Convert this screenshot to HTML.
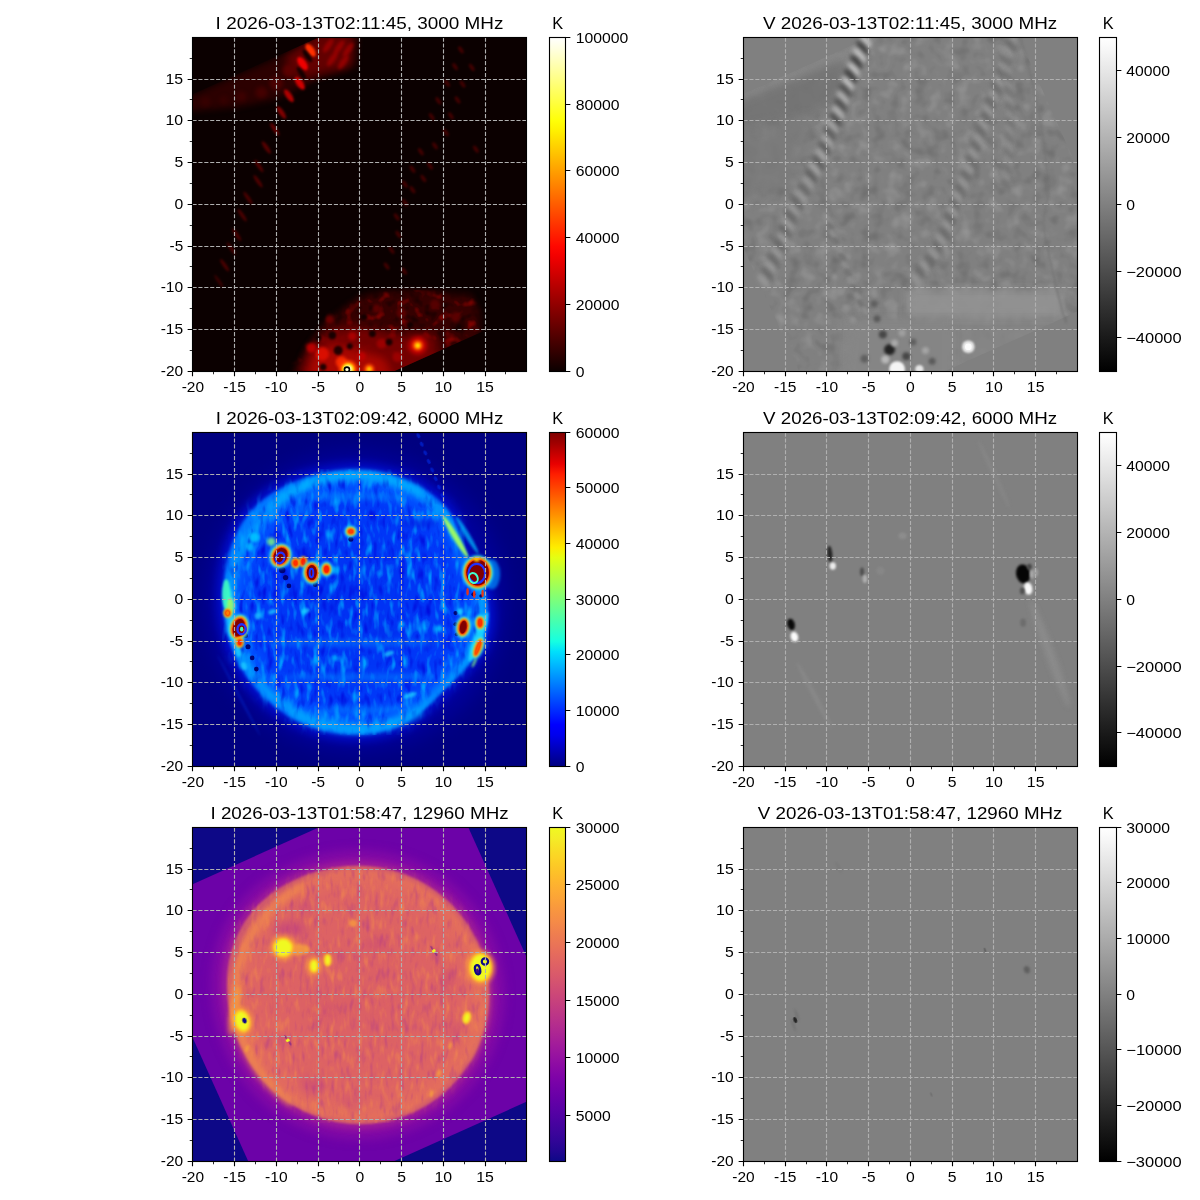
<!DOCTYPE html>
<html><head><meta charset="utf-8"><style>
html,body{margin:0;padding:0;background:#fff;}
svg{display:block;}
text{font-family:"Liberation Sans",sans-serif;}
svg{-webkit-font-smoothing:antialiased;will-change:transform;}
</style></head><body>
<svg width="1200" height="1200" viewBox="0 0 1200 1200">
<defs><clipPath id="clip00"><rect x="192.50" y="37.50" width="334.00" height="334.00"/></clipPath>
<clipPath id="sqclip1"><polygon points="443.21,-18.51 580.67,287.37 272.71,425.78 135.24,119.90"/></clipPath>
<filter id="bl3_00" x="-100%" y="-100%" width="300%" height="300%" color-interpolation-filters="sRGB"><feGaussianBlur stdDeviation="3.00"/></filter>
<filter id="bl4_00" x="-100%" y="-100%" width="300%" height="300%" color-interpolation-filters="sRGB"><feGaussianBlur stdDeviation="4.00"/></filter>
<filter id="bl2_00" x="-100%" y="-100%" width="300%" height="300%" color-interpolation-filters="sRGB"><feGaussianBlur stdDeviation="2.00"/></filter>
<filter id="bl1_60" x="-100%" y="-100%" width="300%" height="300%" color-interpolation-filters="sRGB"><feGaussianBlur stdDeviation="1.60"/></filter>
<filter id="bl1_00" x="-100%" y="-100%" width="300%" height="300%" color-interpolation-filters="sRGB"><feGaussianBlur stdDeviation="1.00"/></filter>
<filter id="bl0_80" x="-100%" y="-100%" width="300%" height="300%" color-interpolation-filters="sRGB"><feGaussianBlur stdDeviation="0.80"/></filter>
<filter id="texhot" x="0" y="0" width="1" height="1" color-interpolation-filters="sRGB"><feTurbulence type="fractalNoise" baseFrequency="0.090 0.090" numOctaves="2" seed="5" result="n"/><feColorMatrix in="n" type="matrix" values="0 0 0 0 0.750  0 0 0 0 0.020  0 0 0 0 0.000  2.60 0 0 0 -1.45" result="l"/><feColorMatrix in="n" type="matrix" values="0 0 0 0 0.040  0 0 0 0 0.000  0 0 0 0 0.000  -3.00 0 0 0 1.35" result="d"/><feMerge result="m"><feMergeNode in="d"/><feMergeNode in="l"/></feMerge><feGaussianBlur in="SourceAlpha" stdDeviation="4.0" result="sa"/><feComposite in="m" in2="sa" operator="in"/></filter>
<filter id="bl5_00" x="-100%" y="-100%" width="300%" height="300%" color-interpolation-filters="sRGB"><feGaussianBlur stdDeviation="5.00"/></filter>
<filter id="bl1_80" x="-100%" y="-100%" width="300%" height="300%" color-interpolation-filters="sRGB"><feGaussianBlur stdDeviation="1.80"/></filter>
<filter id="bl1_20" x="-100%" y="-100%" width="300%" height="300%" color-interpolation-filters="sRGB"><feGaussianBlur stdDeviation="1.20"/></filter>
<filter id="bl1_40" x="-100%" y="-100%" width="300%" height="300%" color-interpolation-filters="sRGB"><feGaussianBlur stdDeviation="1.40"/></filter>
<linearGradient id="cg00" x1="0" y1="0" x2="0" y2="1"><stop offset="0.000" stop-color="#ffffff"/><stop offset="0.031" stop-color="#ffffe3"/><stop offset="0.062" stop-color="#ffffc4"/><stop offset="0.094" stop-color="#ffffa4"/><stop offset="0.125" stop-color="#ffff85"/><stop offset="0.156" stop-color="#ffff65"/><stop offset="0.188" stop-color="#ffff46"/><stop offset="0.219" stop-color="#ffff26"/><stop offset="0.250" stop-color="#ffff07"/><stop offset="0.281" stop-color="#ffef00"/><stop offset="0.312" stop-color="#ffda00"/><stop offset="0.344" stop-color="#ffc500"/><stop offset="0.375" stop-color="#ffb000"/><stop offset="0.406" stop-color="#ff9b00"/><stop offset="0.438" stop-color="#ff8600"/><stop offset="0.469" stop-color="#ff7100"/><stop offset="0.500" stop-color="#ff5c00"/><stop offset="0.531" stop-color="#ff4700"/><stop offset="0.562" stop-color="#ff3200"/><stop offset="0.594" stop-color="#ff1d00"/><stop offset="0.625" stop-color="#ff0800"/><stop offset="0.656" stop-color="#f20000"/><stop offset="0.688" stop-color="#dd0000"/><stop offset="0.719" stop-color="#c80000"/><stop offset="0.750" stop-color="#b30000"/><stop offset="0.781" stop-color="#9e0000"/><stop offset="0.812" stop-color="#890000"/><stop offset="0.844" stop-color="#740000"/><stop offset="0.875" stop-color="#5f0000"/><stop offset="0.906" stop-color="#4a0000"/><stop offset="0.938" stop-color="#350000"/><stop offset="0.969" stop-color="#200000"/><stop offset="1.000" stop-color="#0b0000"/></linearGradient>
<clipPath id="clip01"><rect x="743.50" y="37.50" width="334.00" height="334.00"/></clipPath>
<clipPath id="sqclipv1"><polygon points="993.77,-18.51 1131.24,287.37 823.27,425.78 685.80,119.90"/></clipPath>
<filter id="texv1" x="0" y="0" width="1" height="1" color-interpolation-filters="sRGB"><feTurbulence type="fractalNoise" baseFrequency="0.070 0.070" numOctaves="2" seed="3" result="n"/><feColorMatrix in="n" type="matrix" values="0 0 0 0 0.620  0 0 0 0 0.620  0 0 0 0 0.620  1.60 0 0 0 -0.85" result="l"/><feColorMatrix in="n" type="matrix" values="0 0 0 0 0.380  0 0 0 0 0.380  0 0 0 0 0.380  -1.60 0 0 0 0.75" result="d"/><feMerge result="m"><feMergeNode in="d"/><feMergeNode in="l"/></feMerge><feGaussianBlur in="SourceAlpha" stdDeviation="0.1" result="sa"/><feComposite in="m" in2="sa" operator="in"/></filter>
<filter id="bl2_50" x="-100%" y="-100%" width="300%" height="300%" color-interpolation-filters="sRGB"><feGaussianBlur stdDeviation="2.50"/></filter>
<filter id="bl6_00" x="-100%" y="-100%" width="300%" height="300%" color-interpolation-filters="sRGB"><feGaussianBlur stdDeviation="6.00"/></filter>
<filter id="bl0_60" x="-100%" y="-100%" width="300%" height="300%" color-interpolation-filters="sRGB"><feGaussianBlur stdDeviation="0.60"/></filter>
<linearGradient id="cg01" x1="0" y1="0" x2="0" y2="1"><stop offset="0.000" stop-color="#ffffff"/><stop offset="0.031" stop-color="#f8f8f8"/><stop offset="0.062" stop-color="#f0f0f0"/><stop offset="0.094" stop-color="#e8e8e8"/><stop offset="0.125" stop-color="#e0e0e0"/><stop offset="0.156" stop-color="#d8d8d8"/><stop offset="0.188" stop-color="#d0d0d0"/><stop offset="0.219" stop-color="#c8c8c8"/><stop offset="0.250" stop-color="#c0c0c0"/><stop offset="0.281" stop-color="#b8b8b8"/><stop offset="0.312" stop-color="#b0b0b0"/><stop offset="0.344" stop-color="#a8a8a8"/><stop offset="0.375" stop-color="#a0a0a0"/><stop offset="0.406" stop-color="#989898"/><stop offset="0.438" stop-color="#909090"/><stop offset="0.469" stop-color="#888888"/><stop offset="0.500" stop-color="#808080"/><stop offset="0.531" stop-color="#787878"/><stop offset="0.562" stop-color="#707070"/><stop offset="0.594" stop-color="#686868"/><stop offset="0.625" stop-color="#606060"/><stop offset="0.656" stop-color="#585858"/><stop offset="0.688" stop-color="#505050"/><stop offset="0.719" stop-color="#484848"/><stop offset="0.750" stop-color="#404040"/><stop offset="0.781" stop-color="#383838"/><stop offset="0.812" stop-color="#303030"/><stop offset="0.844" stop-color="#282828"/><stop offset="0.875" stop-color="#202020"/><stop offset="0.906" stop-color="#181818"/><stop offset="0.938" stop-color="#101010"/><stop offset="0.969" stop-color="#080808"/><stop offset="1.000" stop-color="#000000"/></linearGradient>
<clipPath id="clip10"><rect x="192.50" y="432.50" width="334.00" height="334.00"/></clipPath>
<filter id="bl10_00" x="-100%" y="-100%" width="300%" height="300%" color-interpolation-filters="sRGB"><feGaussianBlur stdDeviation="10.00"/></filter>
<filter id="texjet" x="0" y="0" width="1" height="1" color-interpolation-filters="sRGB"><feTurbulence type="fractalNoise" baseFrequency="0.150 0.055" numOctaves="2" seed="7" result="n"/><feColorMatrix in="n" type="matrix" values="0 0 0 0 0.000  0 0 0 0 0.620  0 0 0 0 1.000  3.20 0 0 0 -1.65" result="l"/><feColorMatrix in="n" type="matrix" values="0 0 0 0 0.000  0 0 0 0 0.030  0 0 0 0 0.860  -3.00 0 0 0 1.30" result="d"/><feMerge result="m"><feMergeNode in="d"/><feMergeNode in="l"/></feMerge><feGaussianBlur in="SourceAlpha" stdDeviation="6.0" result="sa"/><feComposite in="m" in2="sa" operator="in"/></filter>
<filter id="bl1_50" x="-100%" y="-100%" width="300%" height="300%" color-interpolation-filters="sRGB"><feGaussianBlur stdDeviation="1.50"/></filter>
<filter id="bl0_90" x="-100%" y="-100%" width="300%" height="300%" color-interpolation-filters="sRGB"><feGaussianBlur stdDeviation="0.90"/></filter>
<filter id="bl0_25" x="-100%" y="-100%" width="300%" height="300%" color-interpolation-filters="sRGB"><feGaussianBlur stdDeviation="0.25"/></filter>
<linearGradient id="cg10" x1="0" y1="0" x2="0" y2="1"><stop offset="0.000" stop-color="#800000"/><stop offset="0.031" stop-color="#9f0000"/><stop offset="0.062" stop-color="#c40000"/><stop offset="0.094" stop-color="#e80000"/><stop offset="0.125" stop-color="#ff1e00"/><stop offset="0.156" stop-color="#ff3b00"/><stop offset="0.188" stop-color="#ff5900"/><stop offset="0.219" stop-color="#ff7700"/><stop offset="0.250" stop-color="#ff9400"/><stop offset="0.281" stop-color="#ffb200"/><stop offset="0.312" stop-color="#ffd000"/><stop offset="0.344" stop-color="#feed00"/><stop offset="0.375" stop-color="#e4ff13"/><stop offset="0.406" stop-color="#caff2c"/><stop offset="0.438" stop-color="#b1ff46"/><stop offset="0.469" stop-color="#97ff60"/><stop offset="0.500" stop-color="#7dff7a"/><stop offset="0.531" stop-color="#63ff94"/><stop offset="0.562" stop-color="#49ffad"/><stop offset="0.594" stop-color="#30ffc7"/><stop offset="0.625" stop-color="#16ffe1"/><stop offset="0.656" stop-color="#00e0fb"/><stop offset="0.688" stop-color="#00c0ff"/><stop offset="0.719" stop-color="#00a0ff"/><stop offset="0.750" stop-color="#0080ff"/><stop offset="0.781" stop-color="#0060ff"/><stop offset="0.812" stop-color="#0040ff"/><stop offset="0.844" stop-color="#0020ff"/><stop offset="0.875" stop-color="#0000ff"/><stop offset="0.906" stop-color="#0000ed"/><stop offset="0.938" stop-color="#0000c8"/><stop offset="0.969" stop-color="#0000a4"/><stop offset="1.000" stop-color="#000080"/></linearGradient>
<clipPath id="clip11"><rect x="743.50" y="432.50" width="334.00" height="334.00"/></clipPath>
<linearGradient id="cg11" x1="0" y1="0" x2="0" y2="1"><stop offset="0.000" stop-color="#ffffff"/><stop offset="0.031" stop-color="#f8f8f8"/><stop offset="0.062" stop-color="#f0f0f0"/><stop offset="0.094" stop-color="#e8e8e8"/><stop offset="0.125" stop-color="#e0e0e0"/><stop offset="0.156" stop-color="#d8d8d8"/><stop offset="0.188" stop-color="#d0d0d0"/><stop offset="0.219" stop-color="#c8c8c8"/><stop offset="0.250" stop-color="#c0c0c0"/><stop offset="0.281" stop-color="#b8b8b8"/><stop offset="0.312" stop-color="#b0b0b0"/><stop offset="0.344" stop-color="#a8a8a8"/><stop offset="0.375" stop-color="#a0a0a0"/><stop offset="0.406" stop-color="#989898"/><stop offset="0.438" stop-color="#909090"/><stop offset="0.469" stop-color="#888888"/><stop offset="0.500" stop-color="#808080"/><stop offset="0.531" stop-color="#787878"/><stop offset="0.562" stop-color="#707070"/><stop offset="0.594" stop-color="#686868"/><stop offset="0.625" stop-color="#606060"/><stop offset="0.656" stop-color="#585858"/><stop offset="0.688" stop-color="#505050"/><stop offset="0.719" stop-color="#484848"/><stop offset="0.750" stop-color="#404040"/><stop offset="0.781" stop-color="#383838"/><stop offset="0.812" stop-color="#303030"/><stop offset="0.844" stop-color="#282828"/><stop offset="0.875" stop-color="#202020"/><stop offset="0.906" stop-color="#181818"/><stop offset="0.938" stop-color="#101010"/><stop offset="0.969" stop-color="#080808"/><stop offset="1.000" stop-color="#000000"/></linearGradient>
<clipPath id="clip20"><rect x="192.50" y="827.50" width="334.00" height="334.00"/></clipPath>
<clipPath id="sqclip"><polygon points="443.21,771.49 580.67,1077.37 272.71,1215.78 135.24,909.90"/></clipPath>
<filter id="texpl" x="0" y="0" width="1" height="1" color-interpolation-filters="sRGB"><feTurbulence type="fractalNoise" baseFrequency="0.200 0.060" numOctaves="2" seed="11" result="n"/><feColorMatrix in="n" type="matrix" values="0 0 0 0 0.940  0 0 0 0 0.520  0 0 0 0 0.310  2.60 0 0 0 -1.40" result="l"/><feColorMatrix in="n" type="matrix" values="0 0 0 0 0.740  0 0 0 0 0.270  0 0 0 0 0.500  -2.60 0 0 0 1.15" result="d"/><feMerge result="m"><feMergeNode in="d"/><feMergeNode in="l"/></feMerge><feGaussianBlur in="SourceAlpha" stdDeviation="6.0" result="sa"/><feComposite in="m" in2="sa" operator="in"/></filter>
<filter id="bl0_20" x="-100%" y="-100%" width="300%" height="300%" color-interpolation-filters="sRGB"><feGaussianBlur stdDeviation="0.20"/></filter>
<filter id="bl0_50" x="-100%" y="-100%" width="300%" height="300%" color-interpolation-filters="sRGB"><feGaussianBlur stdDeviation="0.50"/></filter>
<linearGradient id="cg20" x1="0" y1="0" x2="0" y2="1"><stop offset="0.000" stop-color="#f0f921"/><stop offset="0.031" stop-color="#f4ed27"/><stop offset="0.062" stop-color="#f8df25"/><stop offset="0.094" stop-color="#fcd225"/><stop offset="0.125" stop-color="#fdc527"/><stop offset="0.156" stop-color="#feb82c"/><stop offset="0.188" stop-color="#fdac33"/><stop offset="0.219" stop-color="#fba139"/><stop offset="0.250" stop-color="#f89540"/><stop offset="0.281" stop-color="#f58b47"/><stop offset="0.312" stop-color="#f0804e"/><stop offset="0.344" stop-color="#eb7655"/><stop offset="0.375" stop-color="#e66c5c"/><stop offset="0.406" stop-color="#e06363"/><stop offset="0.438" stop-color="#da5a6a"/><stop offset="0.469" stop-color="#d35171"/><stop offset="0.500" stop-color="#cc4778"/><stop offset="0.531" stop-color="#c43e7f"/><stop offset="0.562" stop-color="#bc3587"/><stop offset="0.594" stop-color="#b32c8e"/><stop offset="0.625" stop-color="#aa2395"/><stop offset="0.656" stop-color="#a01a9c"/><stop offset="0.688" stop-color="#9511a1"/><stop offset="0.719" stop-color="#8a09a5"/><stop offset="0.750" stop-color="#7e03a8"/><stop offset="0.781" stop-color="#7201a8"/><stop offset="0.812" stop-color="#6600a7"/><stop offset="0.844" stop-color="#5901a5"/><stop offset="0.875" stop-color="#4c02a1"/><stop offset="0.906" stop-color="#3f049c"/><stop offset="0.938" stop-color="#310597"/><stop offset="0.969" stop-color="#220690"/><stop offset="1.000" stop-color="#0d0887"/></linearGradient>
<clipPath id="clip21"><rect x="743.50" y="827.50" width="334.00" height="334.00"/></clipPath>
<linearGradient id="cg21" x1="0" y1="0" x2="0" y2="1"><stop offset="0.000" stop-color="#ffffff"/><stop offset="0.031" stop-color="#f8f8f8"/><stop offset="0.062" stop-color="#f0f0f0"/><stop offset="0.094" stop-color="#e8e8e8"/><stop offset="0.125" stop-color="#e0e0e0"/><stop offset="0.156" stop-color="#d8d8d8"/><stop offset="0.188" stop-color="#d0d0d0"/><stop offset="0.219" stop-color="#c8c8c8"/><stop offset="0.250" stop-color="#c0c0c0"/><stop offset="0.281" stop-color="#b8b8b8"/><stop offset="0.312" stop-color="#b0b0b0"/><stop offset="0.344" stop-color="#a8a8a8"/><stop offset="0.375" stop-color="#a0a0a0"/><stop offset="0.406" stop-color="#989898"/><stop offset="0.438" stop-color="#909090"/><stop offset="0.469" stop-color="#888888"/><stop offset="0.500" stop-color="#808080"/><stop offset="0.531" stop-color="#787878"/><stop offset="0.562" stop-color="#707070"/><stop offset="0.594" stop-color="#686868"/><stop offset="0.625" stop-color="#606060"/><stop offset="0.656" stop-color="#585858"/><stop offset="0.688" stop-color="#505050"/><stop offset="0.719" stop-color="#484848"/><stop offset="0.750" stop-color="#404040"/><stop offset="0.781" stop-color="#383838"/><stop offset="0.812" stop-color="#303030"/><stop offset="0.844" stop-color="#282828"/><stop offset="0.875" stop-color="#202020"/><stop offset="0.906" stop-color="#181818"/><stop offset="0.938" stop-color="#101010"/><stop offset="0.969" stop-color="#080808"/><stop offset="1.000" stop-color="#000000"/></linearGradient></defs>
<rect width="1200" height="1200" fill="#fff"/>
<g clip-path="url(#clip00)">
<rect x="191.50" y="36.50" width="336.00" height="336.00" fill="#0b0000"/>
<g clip-path="url(#sqclip1)">
<polygon points="176.20,102.45 309.78,43.17 324.81,28.98 347.35,28.98 347.35,69.06 318.13,79.07 276.38,99.11 234.64,107.46 176.20,112.47" fill="#300000" opacity="0.90" filter="url(#bl3_00)"/>
<polygon points="284.73,57.37 319.80,33.16 355.70,33.16 353.19,66.55 322.30,72.39 297.26,80.74" fill="#6a0000" opacity="0.90" filter="url(#bl4_00)"/>
<ellipse cx="205.42" cy="101.62" rx="5.01" ry="5.01" fill="#380000" opacity="0.90" filter="url(#bl2_00)"/>
<ellipse cx="223.79" cy="99.95" rx="4.17" ry="4.17" fill="#380000" opacity="0.90" filter="url(#bl2_00)"/>
<ellipse cx="241.32" cy="96.61" rx="5.01" ry="5.01" fill="#400000" opacity="0.90" filter="url(#bl2_00)"/>
<ellipse cx="261.36" cy="92.43" rx="5.84" ry="5.84" fill="#480000" opacity="0.90" filter="url(#bl2_00)"/>
<ellipse cx="276.38" cy="83.25" rx="6.68" ry="6.68" fill="#500000" opacity="0.90" filter="url(#bl2_00)"/>
<ellipse cx="288.91" cy="70.72" rx="6.68" ry="6.68" fill="#600000" opacity="0.90" filter="url(#bl2_00)"/>
<ellipse cx="328.15" cy="45.68" rx="2.92" ry="8.35" fill="#a00000" transform="rotate(35.0 328.15 45.68)" opacity="0.80" filter="url(#bl1_60)"/>
<ellipse cx="339.00" cy="47.35" rx="2.92" ry="8.35" fill="#a00000" transform="rotate(35.0 339.00 47.35)" opacity="0.80" filter="url(#bl1_60)"/>
<ellipse cx="348.18" cy="49.85" rx="2.92" ry="8.35" fill="#a00000" transform="rotate(35.0 348.18 49.85)" opacity="0.80" filter="url(#bl1_60)"/>
<ellipse cx="332.32" cy="59.04" rx="2.92" ry="8.35" fill="#a00000" transform="rotate(35.0 332.32 59.04)" opacity="0.80" filter="url(#bl1_60)"/>
<ellipse cx="343.17" cy="62.38" rx="2.92" ry="8.35" fill="#a00000" transform="rotate(35.0 343.17 62.38)" opacity="0.80" filter="url(#bl1_60)"/>
</g>
<ellipse cx="310.61" cy="50.27" rx="3.76" ry="7.51" fill="#ff3000" transform="rotate(-35.0 310.61 50.27)" filter="url(#bl1_00)"/>
<ellipse cx="302.52" cy="63.63" rx="3.76" ry="7.51" fill="#f00000" transform="rotate(-35.0 302.52 63.63)" filter="url(#bl1_00)"/>
<ellipse cx="299.76" cy="83.25" rx="3.34" ry="7.51" fill="#d00000" transform="rotate(-35.0 299.76 83.25)" filter="url(#bl1_00)"/>
<ellipse cx="288.91" cy="95.77" rx="2.92" ry="7.51" fill="#b00000" transform="rotate(-35.0 288.91 95.77)" filter="url(#bl1_00)"/>
<ellipse cx="281.39" cy="112.47" rx="2.50" ry="7.51" fill="#800000" transform="rotate(-35.0 281.39 112.47)" filter="url(#bl1_00)"/>
<ellipse cx="274.72" cy="129.17" rx="2.09" ry="7.51" fill="#600000" transform="rotate(-35.0 274.72 129.17)" filter="url(#bl1_00)"/>
<ellipse cx="266.37" cy="147.53" rx="2.09" ry="7.51" fill="#580000" transform="rotate(-35.0 266.37 147.53)" filter="url(#bl1_00)"/>
<ellipse cx="258.85" cy="165.90" rx="1.84" ry="7.51" fill="#500000" transform="rotate(-35.0 258.85 165.90)" filter="url(#bl1_00)"/>
<ellipse cx="258.02" cy="181.26" rx="1.84" ry="7.51" fill="#500000" transform="rotate(-35.0 258.02 181.26)" filter="url(#bl1_00)"/>
<ellipse cx="248.00" cy="198.04" rx="1.84" ry="7.51" fill="#4a0000" transform="rotate(-35.0 248.00 198.04)" filter="url(#bl1_00)"/>
<ellipse cx="242.16" cy="215.16" rx="1.84" ry="7.51" fill="#4a0000" transform="rotate(-35.0 242.16 215.16)" filter="url(#bl1_00)"/>
<ellipse cx="236.73" cy="234.78" rx="1.84" ry="7.51" fill="#4a0000" transform="rotate(-35.0 236.73 234.78)" filter="url(#bl1_00)"/>
<ellipse cx="231.30" cy="248.55" rx="1.67" ry="7.51" fill="#440000" transform="rotate(-35.0 231.30 248.55)" filter="url(#bl1_00)"/>
<ellipse cx="224.62" cy="265.25" rx="1.84" ry="7.51" fill="#4a0000" transform="rotate(-35.0 224.62 265.25)" filter="url(#bl1_00)"/>
<ellipse cx="218.78" cy="281.11" rx="1.50" ry="7.51" fill="#3a0000" transform="rotate(-35.0 218.78 281.11)" filter="url(#bl1_00)"/>
<ellipse cx="307.27" cy="55.70" rx="2.50" ry="7.51" fill="#0b0000" transform="rotate(-35.0 307.27 55.70)" opacity="0.90" filter="url(#bl1_00)"/>
<ellipse cx="301.43" cy="73.23" rx="2.50" ry="7.51" fill="#0b0000" transform="rotate(-35.0 301.43 73.23)" opacity="0.90" filter="url(#bl1_00)"/>
<ellipse cx="460.89" cy="49.85" rx="1.84" ry="4.17" fill="#5a0000" transform="rotate(-35.0 460.89 49.85)" opacity="0.70" filter="url(#bl0_80)"/>
<ellipse cx="455.04" cy="66.55" rx="1.84" ry="4.17" fill="#5a0000" transform="rotate(-35.0 455.04 66.55)" opacity="0.70" filter="url(#bl0_80)"/>
<ellipse cx="471.74" cy="67.39" rx="1.84" ry="4.17" fill="#5a0000" transform="rotate(-35.0 471.74 67.39)" opacity="0.70" filter="url(#bl0_80)"/>
<ellipse cx="447.11" cy="83.25" rx="1.84" ry="4.17" fill="#5a0000" transform="rotate(-35.0 447.11 83.25)" opacity="0.70" filter="url(#bl0_80)"/>
<ellipse cx="462.56" cy="84.08" rx="1.84" ry="4.17" fill="#5a0000" transform="rotate(-35.0 462.56 84.08)" opacity="0.70" filter="url(#bl0_80)"/>
<ellipse cx="438.35" cy="100.78" rx="1.84" ry="4.17" fill="#5a0000" transform="rotate(-35.0 438.35 100.78)" opacity="0.70" filter="url(#bl0_80)"/>
<ellipse cx="457.55" cy="99.95" rx="1.84" ry="4.17" fill="#5a0000" transform="rotate(-35.0 457.55 99.95)" opacity="0.70" filter="url(#bl0_80)"/>
<ellipse cx="431.67" cy="116.64" rx="1.84" ry="4.17" fill="#5a0000" transform="rotate(-35.0 431.67 116.64)" opacity="0.70" filter="url(#bl0_80)"/>
<ellipse cx="450.87" cy="115.81" rx="1.84" ry="4.17" fill="#5a0000" transform="rotate(-35.0 450.87 115.81)" opacity="0.70" filter="url(#bl0_80)"/>
<ellipse cx="445.86" cy="132.51" rx="1.84" ry="4.17" fill="#5a0000" transform="rotate(-35.0 445.86 132.51)" opacity="0.70" filter="url(#bl0_80)"/>
<ellipse cx="435.01" cy="145.86" rx="1.84" ry="4.17" fill="#5a0000" transform="rotate(-35.0 435.01 145.86)" opacity="0.70" filter="url(#bl0_80)"/>
<ellipse cx="420.81" cy="151.71" rx="1.84" ry="4.17" fill="#5a0000" transform="rotate(-35.0 420.81 151.71)" opacity="0.70" filter="url(#bl0_80)"/>
<ellipse cx="475.91" cy="149.20" rx="1.84" ry="4.17" fill="#5a0000" transform="rotate(-35.0 475.91 149.20)" opacity="0.70" filter="url(#bl0_80)"/>
<ellipse cx="430.00" cy="165.90" rx="1.84" ry="4.17" fill="#5a0000" transform="rotate(-35.0 430.00 165.90)" opacity="0.70" filter="url(#bl0_80)"/>
<ellipse cx="412.47" cy="169.24" rx="1.84" ry="4.17" fill="#5a0000" transform="rotate(-35.0 412.47 169.24)" opacity="0.70" filter="url(#bl0_80)"/>
<ellipse cx="423.32" cy="178.42" rx="1.84" ry="4.17" fill="#5a0000" transform="rotate(-35.0 423.32 178.42)" opacity="0.70" filter="url(#bl0_80)"/>
<ellipse cx="412.47" cy="189.69" rx="1.84" ry="4.17" fill="#5a0000" transform="rotate(-35.0 412.47 189.69)" opacity="0.70" filter="url(#bl0_80)"/>
<ellipse cx="404.95" cy="184.27" rx="1.84" ry="4.17" fill="#5a0000" transform="rotate(-35.0 404.95 184.27)" opacity="0.70" filter="url(#bl0_80)"/>
<ellipse cx="404.95" cy="202.64" rx="1.84" ry="4.17" fill="#5a0000" transform="rotate(-35.0 404.95 202.64)" opacity="0.70" filter="url(#bl0_80)"/>
<ellipse cx="396.60" cy="216.83" rx="1.84" ry="4.17" fill="#5a0000" transform="rotate(-35.0 396.60 216.83)" opacity="0.70" filter="url(#bl0_80)"/>
<ellipse cx="398.27" cy="234.36" rx="1.84" ry="4.17" fill="#5a0000" transform="rotate(-35.0 398.27 234.36)" opacity="0.70" filter="url(#bl0_80)"/>
<ellipse cx="391.59" cy="250.22" rx="1.84" ry="4.17" fill="#5a0000" transform="rotate(-35.0 391.59 250.22)" opacity="0.70" filter="url(#bl0_80)"/>
<ellipse cx="386.59" cy="266.09" rx="1.84" ry="4.17" fill="#5a0000" transform="rotate(-35.0 386.59 266.09)" opacity="0.70" filter="url(#bl0_80)"/>
<ellipse cx="404.12" cy="271.09" rx="1.84" ry="4.17" fill="#5a0000" transform="rotate(-35.0 404.12 271.09)" opacity="0.70" filter="url(#bl0_80)"/>
<g clip-path="url(#sqclip1)">
<polygon points="288.91,379.63 305.60,350.41 322.30,325.36 339.00,311.17 359.87,296.14 384.92,291.13 426.66,290.30 470.91,294.47 480.09,312.84 480.09,379.63" fill="#380000" opacity="0.95" filter="url(#bl3_00)"/>
<polygon points="288.91,379.63 305.60,350.41 322.30,325.36 339.00,311.17 359.87,296.14 384.92,291.13 426.66,290.30 470.91,294.47 480.09,312.84 480.09,379.63" fill="#000" opacity="0.80" filter="url(#texhot)"/>
<polygon points="297.26,379.63 309.78,347.90 330.65,329.54 359.87,325.36 393.26,333.71 435.01,333.71 443.35,379.63" fill="#7a0000" opacity="0.90" filter="url(#bl5_00)"/>
<polygon points="305.60,379.63 313.95,352.91 334.82,344.56 359.87,350.41 384.92,358.76 393.26,379.63" fill="#b00800" opacity="0.90" filter="url(#bl5_00)"/>
<ellipse cx="322.30" cy="353.75" rx="6.68" ry="6.68" fill="#e01000" opacity="0.90" filter="url(#bl1_80)"/>
<ellipse cx="311.45" cy="347.90" rx="5.01" ry="5.01" fill="#c00000" opacity="0.90" filter="url(#bl1_80)"/>
<ellipse cx="352.36" cy="336.22" rx="4.17" ry="4.17" fill="#b00000" opacity="0.90" filter="url(#bl1_80)"/>
<ellipse cx="381.58" cy="343.73" rx="5.01" ry="5.01" fill="#a00000" opacity="0.90" filter="url(#bl1_80)"/>
<ellipse cx="329.82" cy="319.52" rx="4.17" ry="4.17" fill="#700000" opacity="0.90" filter="url(#bl1_80)"/>
<ellipse cx="397.44" cy="357.09" rx="5.01" ry="5.01" fill="#a00000" opacity="0.90" filter="url(#bl1_80)"/>
<ellipse cx="341.50" cy="362.10" rx="5.84" ry="5.84" fill="#ff3000" opacity="0.90" filter="url(#bl1_80)"/>
<ellipse cx="361.54" cy="356.25" rx="4.17" ry="4.17" fill="#c00000" opacity="0.90" filter="url(#bl1_80)"/>
<ellipse cx="401.61" cy="312.84" rx="5.01" ry="5.01" fill="#600000" opacity="0.90" filter="url(#bl1_80)"/>
<ellipse cx="435.01" cy="304.49" rx="5.01" ry="5.01" fill="#5a0000" opacity="0.90" filter="url(#bl1_80)"/>
<ellipse cx="455.88" cy="317.01" rx="5.01" ry="5.01" fill="#5a0000" opacity="0.90" filter="url(#bl1_80)"/>
<ellipse cx="376.57" cy="308.66" rx="4.17" ry="4.17" fill="#600000" opacity="0.90" filter="url(#bl1_80)"/>
<ellipse cx="338.16" cy="350.41" rx="4.59" ry="4.59" fill="#0b0000" opacity="0.85" filter="url(#bl1_20)"/>
<ellipse cx="332.32" cy="335.38" rx="3.76" ry="3.76" fill="#0b0000" opacity="0.85" filter="url(#bl1_20)"/>
<ellipse cx="349.85" cy="346.23" rx="2.92" ry="2.92" fill="#0b0000" opacity="0.85" filter="url(#bl1_20)"/>
<ellipse cx="372.39" cy="333.71" rx="3.34" ry="3.34" fill="#0b0000" opacity="0.85" filter="url(#bl1_20)"/>
<ellipse cx="389.09" cy="342.06" rx="3.34" ry="3.34" fill="#0b0000" opacity="0.85" filter="url(#bl1_20)"/>
<ellipse cx="318.13" cy="337.88" rx="2.92" ry="2.92" fill="#0b0000" opacity="0.85" filter="url(#bl1_20)"/>
<ellipse cx="364.04" cy="317.01" rx="3.34" ry="3.34" fill="#0b0000" opacity="0.85" filter="url(#bl1_20)"/>
<ellipse cx="409.96" cy="325.36" rx="3.34" ry="3.34" fill="#0b0000" opacity="0.85" filter="url(#bl1_20)"/>
<ellipse cx="323.14" cy="367.11" rx="3.34" ry="3.34" fill="#0b0000" opacity="0.85" filter="url(#bl1_20)"/>
</g>
<ellipse cx="417.73" cy="345.40" rx="9.18" ry="9.18" fill="#d00000" opacity="0.90" filter="url(#bl2_00)"/>
<ellipse cx="417.73" cy="345.40" rx="5.01" ry="5.01" fill="#ff6000" filter="url(#bl1_40)"/>
<ellipse cx="417.73" cy="345.40" rx="2.50" ry="2.50" fill="#ffd800" filter="url(#bl1_00)"/>
<ellipse cx="369.22" cy="369.19" rx="5.01" ry="5.01" fill="#ff5000" filter="url(#bl1_40)"/>
<ellipse cx="369.22" cy="369.19" rx="2.50" ry="2.50" fill="#ffc000" filter="url(#bl1_00)"/>
<ellipse cx="348.02" cy="369.19" rx="9.18" ry="9.18" fill="#ff4000" filter="url(#bl1_80)"/>
<ellipse cx="348.02" cy="369.19" rx="6.26" ry="6.26" fill="#ffe000" filter="url(#bl1_20)"/>
<ellipse cx="348.02" cy="369.19" rx="3.76" ry="3.76" fill="#ffffe0" filter="url(#bl0_80)"/>
<ellipse cx="346.93" cy="369.61" rx="2.50" ry="2.50" fill="none" stroke="#000" stroke-width="1.6"/>
</g>
<path d="M234.50 371.50V37.50M192.50 329.50H526.50M276.50 371.50V37.50M192.50 287.50H526.50M318.50 371.50V37.50M192.50 246.50H526.50M359.50 371.50V37.50M192.50 204.50H526.50M401.50 371.50V37.50M192.50 162.50H526.50M443.50 371.50V37.50M192.50 120.50H526.50M485.50 371.50V37.50M192.50 79.50H526.50" stroke="#b0b0b0" stroke-width="1.11" stroke-dasharray="4.11 1.78" fill="none"/>
<rect x="192.50" y="37.50" width="334.00" height="334.00" fill="none" stroke="#000" stroke-width="1.11"/>
<path d="M192.50 371.50v4.86M192.50 371.50h-4.86M234.50 371.50v4.86M192.50 329.50h-4.86M276.50 371.50v4.86M192.50 287.50h-4.86M318.50 371.50v4.86M192.50 246.50h-4.86M359.50 371.50v4.86M192.50 204.50h-4.86M401.50 371.50v4.86M192.50 162.50h-4.86M443.50 371.50v4.86M192.50 120.50h-4.86M485.50 371.50v4.86M192.50 79.50h-4.86" stroke="#000" stroke-width="1.11" fill="none"/>
<path d="M213.50 371.50v2.78M192.50 350.50h-2.78M255.50 371.50v2.78M192.50 308.50h-2.78M297.50 371.50v2.78M192.50 266.50h-2.78M338.50 371.50v2.78M192.50 225.50h-2.78M380.50 371.50v2.78M192.50 183.50h-2.78M422.50 371.50v2.78M192.50 141.50h-2.78M464.50 371.50v2.78M192.50 99.50h-2.78M505.50 371.50v2.78M192.50 58.50h-2.78" stroke="#000" stroke-width="0.83" fill="none"/>
<rect x="549.50" y="37.50" width="16.00" height="334.00" fill="url(#cg00)" stroke="#000" stroke-width="1.11"/>
<path d="M565.50 371.50h4.86M565.50 304.50h4.86M565.50 237.50h4.86M565.50 170.50h4.86M565.50 104.50h4.86M565.50 37.50h4.86" stroke="#000" stroke-width="1.11" fill="none"/>
<g clip-path="url(#clip01)">
<rect x="742.50" y="36.50" width="336.00" height="336.00" fill="#808080"/>
<g clip-path="url(#sqclipv1)">
<polygon points="993.77,-18.51 1131.24,287.37 823.27,425.78 685.80,119.90" fill="#000" filter="url(#texv1)"/>
<polygon points="835.30,317.85 1069.06,317.85 1069.06,379.63 835.30,379.63" fill="#868686" opacity="0.80" filter="url(#bl5_00)"/>
<polygon points="726.76,100.78 860.34,40.67 868.69,28.98 885.39,28.98 856.17,58.20 726.76,110.80" fill="#8a8a8a" opacity="0.90" filter="url(#bl2_50)"/>
<polygon points="726.76,105.79 843.65,58.20 847.82,95.77 810.25,116.64 726.76,133.34" fill="#747474" opacity="0.90" filter="url(#bl5_00)"/>
<polygon points="726.76,133.34 810.25,116.64 793.55,187.61 726.76,204.31" fill="#7a7a7a" opacity="0.80" filter="url(#bl6_00)"/>
<polygon points="906.26,290.30 1064.89,290.30 1064.89,317.85 906.26,317.85" fill="#939393" opacity="0.90" filter="url(#bl4_00)"/>
<polygon points="851.99,321.19 952.18,321.19 952.18,379.63 843.65,379.63" fill="#868686" opacity="0.90" filter="url(#bl4_00)"/>
</g>
<ellipse cx="865.35" cy="40.67" rx="3.51" ry="8.77" fill="#bebebe" transform="rotate(-40.0 865.35 40.67)" filter="url(#bl2_00)"/>
<ellipse cx="862.36" cy="47.74" rx="3.51" ry="8.77" fill="#424242" transform="rotate(-40.0 862.36 47.74)" filter="url(#bl2_00)"/>
<ellipse cx="859.37" cy="54.82" rx="3.51" ry="8.77" fill="#bebebe" transform="rotate(-40.0 859.37 54.82)" filter="url(#bl2_00)"/>
<ellipse cx="856.37" cy="61.89" rx="3.51" ry="8.77" fill="#424242" transform="rotate(-40.0 856.37 61.89)" filter="url(#bl2_00)"/>
<ellipse cx="853.47" cy="69.00" rx="3.51" ry="8.77" fill="#bebebe" transform="rotate(-40.0 853.47 69.00)" filter="url(#bl2_00)"/>
<ellipse cx="850.57" cy="76.11" rx="3.51" ry="8.77" fill="#424242" transform="rotate(-40.0 850.57 76.11)" filter="url(#bl2_00)"/>
<ellipse cx="847.67" cy="83.23" rx="3.51" ry="8.77" fill="#bebebe" transform="rotate(-40.0 847.67 83.23)" filter="url(#bl2_00)"/>
<ellipse cx="845.17" cy="90.49" rx="3.51" ry="8.77" fill="#535353" transform="rotate(-40.0 845.17 90.49)" filter="url(#bl2_00)"/>
<ellipse cx="842.79" cy="97.79" rx="3.51" ry="8.77" fill="#adadad" transform="rotate(-40.0 842.79 97.79)" filter="url(#bl2_00)"/>
<ellipse cx="840.42" cy="105.09" rx="3.51" ry="8.77" fill="#535353" transform="rotate(-40.0 840.42 105.09)" filter="url(#bl2_00)"/>
<ellipse cx="838.04" cy="112.40" rx="3.51" ry="8.77" fill="#adadad" transform="rotate(-40.0 838.04 112.40)" filter="url(#bl2_00)"/>
<ellipse cx="835.66" cy="119.70" rx="3.51" ry="8.77" fill="#535353" transform="rotate(-40.0 835.66 119.70)" filter="url(#bl2_00)"/>
<ellipse cx="832.88" cy="126.86" rx="3.51" ry="8.77" fill="#a0a0a0" transform="rotate(-40.0 832.88 126.86)" filter="url(#bl2_00)"/>
<ellipse cx="830.03" cy="133.99" rx="3.51" ry="8.77" fill="#606060" transform="rotate(-40.0 830.03 133.99)" filter="url(#bl2_00)"/>
<ellipse cx="827.17" cy="141.12" rx="3.51" ry="8.77" fill="#a0a0a0" transform="rotate(-40.0 827.17 141.12)" filter="url(#bl2_00)"/>
<ellipse cx="824.32" cy="148.25" rx="3.51" ry="8.77" fill="#606060" transform="rotate(-40.0 824.32 148.25)" filter="url(#bl2_00)"/>
<ellipse cx="821.37" cy="155.34" rx="3.51" ry="8.77" fill="#a0a0a0" transform="rotate(-40.0 821.37 155.34)" filter="url(#bl2_00)"/>
<ellipse cx="817.94" cy="162.21" rx="3.51" ry="8.77" fill="#606060" transform="rotate(-40.0 817.94 162.21)" filter="url(#bl2_00)"/>
<ellipse cx="814.50" cy="169.08" rx="3.51" ry="8.77" fill="#a0a0a0" transform="rotate(-40.0 814.50 169.08)" filter="url(#bl2_00)"/>
<ellipse cx="811.07" cy="175.95" rx="3.51" ry="8.77" fill="#606060" transform="rotate(-40.0 811.07 175.95)" filter="url(#bl2_00)"/>
<ellipse cx="807.63" cy="182.82" rx="3.51" ry="8.77" fill="#969696" transform="rotate(-40.0 807.63 182.82)" filter="url(#bl2_00)"/>
<ellipse cx="804.11" cy="189.65" rx="3.51" ry="8.77" fill="#6a6a6a" transform="rotate(-40.0 804.11 189.65)" filter="url(#bl2_00)"/>
<ellipse cx="800.60" cy="196.48" rx="3.51" ry="8.77" fill="#969696" transform="rotate(-40.0 800.60 196.48)" filter="url(#bl2_00)"/>
<ellipse cx="797.08" cy="203.30" rx="3.51" ry="8.77" fill="#6a6a6a" transform="rotate(-40.0 797.08 203.30)" filter="url(#bl2_00)"/>
<ellipse cx="793.56" cy="210.13" rx="3.51" ry="8.77" fill="#969696" transform="rotate(-40.0 793.56 210.13)" filter="url(#bl2_00)"/>
<ellipse cx="790.82" cy="217.31" rx="3.51" ry="8.77" fill="#6a6a6a" transform="rotate(-40.0 790.82 217.31)" filter="url(#bl2_00)"/>
<ellipse cx="788.07" cy="224.48" rx="3.51" ry="8.77" fill="#969696" transform="rotate(-40.0 788.07 224.48)" filter="url(#bl2_00)"/>
<ellipse cx="785.33" cy="231.65" rx="3.51" ry="8.77" fill="#6a6a6a" transform="rotate(-40.0 785.33 231.65)" filter="url(#bl2_00)"/>
<ellipse cx="782.58" cy="238.82" rx="3.51" ry="8.77" fill="#969696" transform="rotate(-40.0 782.58 238.82)" filter="url(#bl2_00)"/>
<ellipse cx="779.58" cy="245.89" rx="3.51" ry="8.77" fill="#6a6a6a" transform="rotate(-40.0 779.58 245.89)" filter="url(#bl2_00)"/>
<ellipse cx="776.58" cy="252.97" rx="3.51" ry="8.77" fill="#969696" transform="rotate(-40.0 776.58 252.97)" filter="url(#bl2_00)"/>
<ellipse cx="773.58" cy="260.04" rx="3.51" ry="8.77" fill="#6a6a6a" transform="rotate(-40.0 773.58 260.04)" filter="url(#bl2_00)"/>
<ellipse cx="770.51" cy="267.08" rx="3.51" ry="8.77" fill="#969696" transform="rotate(-40.0 770.51 267.08)" filter="url(#bl2_00)"/>
<ellipse cx="767.08" cy="273.95" rx="3.51" ry="8.77" fill="#6a6a6a" transform="rotate(-40.0 767.08 273.95)" filter="url(#bl2_00)"/>
<ellipse cx="763.64" cy="280.82" rx="3.51" ry="8.77" fill="#969696" transform="rotate(-40.0 763.64 280.82)" filter="url(#bl2_00)"/>
<ellipse cx="1011.45" cy="37.33" rx="3.17" ry="7.93" fill="#949494" transform="rotate(-40.0 1011.45 37.33)" filter="url(#bl2_00)"/>
<ellipse cx="1009.59" cy="44.78" rx="3.17" ry="7.93" fill="#6c6c6c" transform="rotate(-40.0 1009.59 44.78)" filter="url(#bl2_00)"/>
<ellipse cx="1007.73" cy="52.23" rx="3.17" ry="7.93" fill="#949494" transform="rotate(-40.0 1007.73 52.23)" filter="url(#bl2_00)"/>
<ellipse cx="1005.87" cy="59.68" rx="3.17" ry="7.93" fill="#6c6c6c" transform="rotate(-40.0 1005.87 59.68)" filter="url(#bl2_00)"/>
<ellipse cx="1004.00" cy="67.14" rx="3.17" ry="7.93" fill="#949494" transform="rotate(-40.0 1004.00 67.14)" filter="url(#bl2_00)"/>
<ellipse cx="1001.67" cy="74.44" rx="3.17" ry="7.93" fill="#6c6c6c" transform="rotate(-40.0 1001.67 74.44)" filter="url(#bl2_00)"/>
<ellipse cx="998.90" cy="81.60" rx="3.17" ry="7.93" fill="#949494" transform="rotate(-40.0 998.90 81.60)" filter="url(#bl2_00)"/>
<ellipse cx="996.13" cy="88.77" rx="3.17" ry="7.93" fill="#6c6c6c" transform="rotate(-40.0 996.13 88.77)" filter="url(#bl2_00)"/>
<ellipse cx="993.37" cy="95.93" rx="3.17" ry="7.93" fill="#949494" transform="rotate(-40.0 993.37 95.93)" filter="url(#bl2_00)"/>
<ellipse cx="990.60" cy="103.10" rx="3.17" ry="7.93" fill="#6c6c6c" transform="rotate(-40.0 990.60 103.10)" filter="url(#bl2_00)"/>
<ellipse cx="987.98" cy="110.32" rx="3.17" ry="7.93" fill="#949494" transform="rotate(-40.0 987.98 110.32)" filter="url(#bl2_00)"/>
<ellipse cx="985.61" cy="117.62" rx="3.17" ry="7.93" fill="#6c6c6c" transform="rotate(-40.0 985.61 117.62)" filter="url(#bl2_00)"/>
<ellipse cx="983.24" cy="124.93" rx="3.17" ry="7.93" fill="#949494" transform="rotate(-40.0 983.24 124.93)" filter="url(#bl2_00)"/>
<ellipse cx="980.86" cy="132.23" rx="3.17" ry="7.93" fill="#6c6c6c" transform="rotate(-40.0 980.86 132.23)" filter="url(#bl2_00)"/>
<ellipse cx="978.49" cy="139.54" rx="3.17" ry="7.93" fill="#949494" transform="rotate(-40.0 978.49 139.54)" filter="url(#bl2_00)"/>
<ellipse cx="975.90" cy="146.77" rx="3.17" ry="7.93" fill="#6c6c6c" transform="rotate(-40.0 975.90 146.77)" filter="url(#bl2_00)"/>
<ellipse cx="973.27" cy="153.98" rx="3.17" ry="7.93" fill="#949494" transform="rotate(-40.0 973.27 153.98)" filter="url(#bl2_00)"/>
<ellipse cx="970.64" cy="161.20" rx="3.17" ry="7.93" fill="#6c6c6c" transform="rotate(-40.0 970.64 161.20)" filter="url(#bl2_00)"/>
<ellipse cx="968.00" cy="168.41" rx="3.17" ry="7.93" fill="#949494" transform="rotate(-40.0 968.00 168.41)" filter="url(#bl2_00)"/>
<ellipse cx="965.30" cy="175.60" rx="3.17" ry="7.93" fill="#6c6c6c" transform="rotate(-40.0 965.30 175.60)" filter="url(#bl2_00)"/>
<ellipse cx="962.55" cy="182.77" rx="3.17" ry="7.93" fill="#949494" transform="rotate(-40.0 962.55 182.77)" filter="url(#bl2_00)"/>
<ellipse cx="959.79" cy="189.94" rx="3.17" ry="7.93" fill="#6c6c6c" transform="rotate(-40.0 959.79 189.94)" filter="url(#bl2_00)"/>
<ellipse cx="957.19" cy="197.17" rx="3.17" ry="7.93" fill="#949494" transform="rotate(-40.0 957.19 197.17)" filter="url(#bl2_00)"/>
<ellipse cx="954.73" cy="204.44" rx="3.17" ry="7.93" fill="#6c6c6c" transform="rotate(-40.0 954.73 204.44)" filter="url(#bl2_00)"/>
<ellipse cx="952.27" cy="211.72" rx="3.17" ry="7.93" fill="#949494" transform="rotate(-40.0 952.27 211.72)" filter="url(#bl2_00)"/>
<ellipse cx="949.82" cy="219.00" rx="3.17" ry="7.93" fill="#6c6c6c" transform="rotate(-40.0 949.82 219.00)" filter="url(#bl2_00)"/>
<ellipse cx="947.36" cy="226.28" rx="3.17" ry="7.93" fill="#949494" transform="rotate(-40.0 947.36 226.28)" filter="url(#bl2_00)"/>
<ellipse cx="944.10" cy="233.23" rx="3.17" ry="7.93" fill="#6c6c6c" transform="rotate(-40.0 944.10 233.23)" filter="url(#bl2_00)"/>
<ellipse cx="940.77" cy="240.15" rx="3.17" ry="7.93" fill="#949494" transform="rotate(-40.0 940.77 240.15)" filter="url(#bl2_00)"/>
<ellipse cx="937.43" cy="247.07" rx="3.17" ry="7.93" fill="#6c6c6c" transform="rotate(-40.0 937.43 247.07)" filter="url(#bl2_00)"/>
<ellipse cx="933.37" cy="253.55" rx="3.17" ry="7.93" fill="#949494" transform="rotate(-40.0 933.37 253.55)" filter="url(#bl2_00)"/>
<ellipse cx="928.93" cy="259.82" rx="3.17" ry="7.93" fill="#6c6c6c" transform="rotate(-40.0 928.93 259.82)" filter="url(#bl2_00)"/>
<ellipse cx="924.49" cy="266.09" rx="3.17" ry="7.93" fill="#949494" transform="rotate(-40.0 924.49 266.09)" filter="url(#bl2_00)"/>
<ellipse cx="919.93" cy="272.27" rx="3.17" ry="7.93" fill="#6c6c6c" transform="rotate(-40.0 919.93 272.27)" filter="url(#bl2_00)"/>
<ellipse cx="915.25" cy="278.36" rx="3.17" ry="7.93" fill="#949494" transform="rotate(-40.0 915.25 278.36)" filter="url(#bl2_00)"/>
<ellipse cx="1004.78" cy="54.03" rx="2.92" ry="7.51" fill="#8c8c8c" transform="rotate(-40.0 1004.78 54.03)" filter="url(#bl2_00)"/>
<ellipse cx="1005.54" cy="61.67" rx="2.92" ry="7.51" fill="#747474" transform="rotate(-40.0 1005.54 61.67)" filter="url(#bl2_00)"/>
<ellipse cx="1006.30" cy="69.31" rx="2.92" ry="7.51" fill="#8c8c8c" transform="rotate(-40.0 1006.30 69.31)" filter="url(#bl2_00)"/>
<ellipse cx="1007.07" cy="76.96" rx="2.92" ry="7.51" fill="#747474" transform="rotate(-40.0 1007.07 76.96)" filter="url(#bl2_00)"/>
<ellipse cx="1007.83" cy="84.60" rx="2.92" ry="7.51" fill="#8c8c8c" transform="rotate(-40.0 1007.83 84.60)" filter="url(#bl2_00)"/>
<ellipse cx="1008.36" cy="92.26" rx="2.92" ry="7.51" fill="#747474" transform="rotate(-40.0 1008.36 92.26)" filter="url(#bl2_00)"/>
<ellipse cx="1008.74" cy="99.93" rx="2.92" ry="7.51" fill="#8c8c8c" transform="rotate(-40.0 1008.74 99.93)" filter="url(#bl2_00)"/>
<ellipse cx="1009.12" cy="107.60" rx="2.92" ry="7.51" fill="#747474" transform="rotate(-40.0 1009.12 107.60)" filter="url(#bl2_00)"/>
<ellipse cx="1009.51" cy="115.27" rx="2.92" ry="7.51" fill="#8c8c8c" transform="rotate(-40.0 1009.51 115.27)" filter="url(#bl2_00)"/>
<ellipse cx="1009.68" cy="122.94" rx="2.92" ry="7.51" fill="#747474" transform="rotate(-40.0 1009.68 122.94)" filter="url(#bl2_00)"/>
<ellipse cx="1009.30" cy="130.62" rx="2.92" ry="7.51" fill="#8c8c8c" transform="rotate(-40.0 1009.30 130.62)" filter="url(#bl2_00)"/>
<ellipse cx="1008.91" cy="138.29" rx="2.92" ry="7.51" fill="#747474" transform="rotate(-40.0 1008.91 138.29)" filter="url(#bl2_00)"/>
<ellipse cx="1008.53" cy="145.96" rx="2.92" ry="7.51" fill="#8c8c8c" transform="rotate(-40.0 1008.53 145.96)" filter="url(#bl2_00)"/>
<ellipse cx="1008.14" cy="153.63" rx="2.92" ry="7.51" fill="#747474" transform="rotate(-40.0 1008.14 153.63)" filter="url(#bl2_00)"/>
<ellipse cx="1007.41" cy="161.27" rx="2.92" ry="7.51" fill="#8c8c8c" transform="rotate(-40.0 1007.41 161.27)" filter="url(#bl2_00)"/>
<ellipse cx="1006.64" cy="168.92" rx="2.92" ry="7.51" fill="#747474" transform="rotate(-40.0 1006.64 168.92)" filter="url(#bl2_00)"/>
<ellipse cx="1005.88" cy="176.56" rx="2.92" ry="7.51" fill="#8c8c8c" transform="rotate(-40.0 1005.88 176.56)" filter="url(#bl2_00)"/>
<ellipse cx="1005.12" cy="184.20" rx="2.92" ry="7.51" fill="#747474" transform="rotate(-40.0 1005.12 184.20)" filter="url(#bl2_00)"/>
<ellipse cx="826.95" cy="218.50" rx="2.92" ry="5.01" fill="#8c8c8c" transform="rotate(-40.0 826.95 218.50)" filter="url(#bl1_60)"/>
<ellipse cx="830.01" cy="226.27" rx="2.92" ry="5.01" fill="#747474" transform="rotate(-40.0 830.01 226.27)" filter="url(#bl1_60)"/>
<ellipse cx="833.07" cy="234.03" rx="2.92" ry="5.01" fill="#8c8c8c" transform="rotate(-40.0 833.07 234.03)" filter="url(#bl1_60)"/>
<ellipse cx="836.13" cy="241.80" rx="2.92" ry="5.01" fill="#747474" transform="rotate(-40.0 836.13 241.80)" filter="url(#bl1_60)"/>
<ellipse cx="839.13" cy="249.59" rx="2.92" ry="5.01" fill="#8c8c8c" transform="rotate(-40.0 839.13 249.59)" filter="url(#bl1_60)"/>
<ellipse cx="842.06" cy="257.41" rx="2.92" ry="5.01" fill="#747474" transform="rotate(-40.0 842.06 257.41)" filter="url(#bl1_60)"/>
<ellipse cx="844.99" cy="265.23" rx="2.92" ry="5.01" fill="#8c8c8c" transform="rotate(-40.0 844.99 265.23)" filter="url(#bl1_60)"/>
<ellipse cx="847.92" cy="273.04" rx="2.92" ry="5.01" fill="#747474" transform="rotate(-40.0 847.92 273.04)" filter="url(#bl1_60)"/>
<ellipse cx="850.93" cy="280.83" rx="2.92" ry="5.01" fill="#8c8c8c" transform="rotate(-40.0 850.93 280.83)" filter="url(#bl1_60)"/>
<ellipse cx="854.24" cy="288.49" rx="2.92" ry="5.01" fill="#747474" transform="rotate(-40.0 854.24 288.49)" filter="url(#bl1_60)"/>
<ellipse cx="857.56" cy="296.15" rx="2.92" ry="5.01" fill="#8c8c8c" transform="rotate(-40.0 857.56 296.15)" filter="url(#bl1_60)"/>
<ellipse cx="860.88" cy="303.81" rx="2.92" ry="5.01" fill="#747474" transform="rotate(-40.0 860.88 303.81)" filter="url(#bl1_60)"/>
<ellipse cx="865.29" cy="310.89" rx="2.92" ry="5.01" fill="#8c8c8c" transform="rotate(-40.0 865.29 310.89)" filter="url(#bl1_60)"/>
<path d="M1015.63,33.16C1010.90,-2.19 1031.91,78.38 1037.34,104.12C1042.76,129.86 1047.08,166.74 1048.19,187.61C1049.30,208.48 1041.09,207.92 1044.02,229.35C1046.94,250.78 1070.45,348.88 1065.72,316.18" fill="none" filter="url(#bl0_80)" stroke="#747474" stroke-width="1.6" opacity="0.8"/>
<ellipse cx="889.56" cy="349.57" rx="5.51" ry="5.51" fill="#232323" filter="url(#bl1_80)"/>
<ellipse cx="882.88" cy="334.55" rx="4.01" ry="4.01" fill="#464646" filter="url(#bl1_80)"/>
<ellipse cx="874.12" cy="303.66" rx="3.51" ry="3.51" fill="#5f5f5f" filter="url(#bl1_80)"/>
<ellipse cx="877.04" cy="318.68" rx="3.51" ry="3.51" fill="#5a5a5a" filter="url(#bl1_80)"/>
<ellipse cx="906.26" cy="356.25" rx="4.01" ry="4.01" fill="#464646" filter="url(#bl1_80)"/>
<ellipse cx="912.94" cy="342.06" rx="3.51" ry="3.51" fill="#5f5f5f" filter="url(#bl1_80)"/>
<ellipse cx="864.52" cy="358.76" rx="4.01" ry="4.01" fill="#5f5f5f" filter="url(#bl1_80)"/>
<ellipse cx="932.14" cy="361.26" rx="3.51" ry="3.51" fill="#5a5a5a" filter="url(#bl1_80)"/>
<ellipse cx="885.39" cy="359.59" rx="4.01" ry="4.01" fill="#b9b9b9" filter="url(#bl1_80)"/>
<ellipse cx="894.57" cy="342.89" rx="3.51" ry="3.51" fill="#aaaaaa" filter="url(#bl1_80)"/>
<ellipse cx="925.46" cy="350.41" rx="3.51" ry="3.51" fill="#a5a5a5" filter="url(#bl1_80)"/>
<ellipse cx="902.09" cy="332.88" rx="3.51" ry="3.51" fill="#a0a0a0" filter="url(#bl1_80)"/>
<ellipse cx="834.88" cy="276.94" rx="3.51" ry="3.51" fill="#8e8e8e" filter="url(#bl1_80)"/>
<ellipse cx="840.31" cy="291.97" rx="3.51" ry="3.51" fill="#8e8e8e" filter="url(#bl1_80)"/>
<ellipse cx="846.15" cy="307.83" rx="3.51" ry="3.51" fill="#8e8e8e" filter="url(#bl1_80)"/>
<ellipse cx="852.83" cy="320.35" rx="3.51" ry="3.51" fill="#8e8e8e" filter="url(#bl1_80)"/>
<ellipse cx="968.29" cy="346.73" rx="6.26" ry="6.26" fill="#e8e8e8" filter="url(#bl1_00)"/>
<ellipse cx="968.29" cy="346.73" rx="3.34" ry="3.34" fill="#fcfcfc" filter="url(#bl0_60)"/>
<ellipse cx="897.08" cy="369.19" rx="7.93" ry="7.93" fill="#f5f5f5" filter="url(#bl1_00)"/>
<ellipse cx="919.37" cy="369.19" rx="4.17" ry="4.17" fill="#e6e6e6" filter="url(#bl0_80)"/>
</g>
<path d="M785.50 371.50V37.50M743.50 329.50H1077.50M826.50 371.50V37.50M743.50 287.50H1077.50M868.50 371.50V37.50M743.50 246.50H1077.50M910.50 371.50V37.50M743.50 204.50H1077.50M952.50 371.50V37.50M743.50 162.50H1077.50M993.50 371.50V37.50M743.50 120.50H1077.50M1035.50 371.50V37.50M743.50 79.50H1077.50" stroke="#b0b0b0" stroke-width="1.11" stroke-dasharray="4.11 1.78" fill="none"/>
<rect x="743.50" y="37.50" width="334.00" height="334.00" fill="none" stroke="#000" stroke-width="1.11"/>
<path d="M743.50 371.50v4.86M743.50 371.50h-4.86M785.50 371.50v4.86M743.50 329.50h-4.86M826.50 371.50v4.86M743.50 287.50h-4.86M868.50 371.50v4.86M743.50 246.50h-4.86M910.50 371.50v4.86M743.50 204.50h-4.86M952.50 371.50v4.86M743.50 162.50h-4.86M993.50 371.50v4.86M743.50 120.50h-4.86M1035.50 371.50v4.86M743.50 79.50h-4.86" stroke="#000" stroke-width="1.11" fill="none"/>
<path d="M764.50 371.50v2.78M743.50 350.50h-2.78M806.50 371.50v2.78M743.50 308.50h-2.78M847.50 371.50v2.78M743.50 266.50h-2.78M889.50 371.50v2.78M743.50 225.50h-2.78M931.50 371.50v2.78M743.50 183.50h-2.78M973.50 371.50v2.78M743.50 141.50h-2.78M1014.50 371.50v2.78M743.50 99.50h-2.78M1056.50 371.50v2.78M743.50 58.50h-2.78" stroke="#000" stroke-width="0.83" fill="none"/>
<rect x="1099.50" y="37.50" width="17.00" height="334.00" fill="url(#cg01)" stroke="#000" stroke-width="1.11"/>
<path d="M1116.50 337.50h4.86M1116.50 271.50h4.86M1116.50 204.50h4.86M1116.50 137.50h4.86M1116.50 70.50h4.86" stroke="#000" stroke-width="1.11" fill="none"/>
<g clip-path="url(#clip10)">
<rect x="191.50" y="431.50" width="336.00" height="336.00" fill="#000080"/>
<ellipse cx="355.70" cy="601.81" rx="150.27" ry="150.27" fill="#0000b0" opacity="0.55" filter="url(#bl10_00)"/>
<path d="M493.96,602.23C492.81,594.27 490.79,586.20 487.64,578.96C484.50,571.72 478.57,565.58 475.08,558.77C471.59,551.97 469.33,545.39 466.69,538.14C464.05,530.90 462.95,522.29 459.26,515.32C455.57,508.36 450.23,501.88 444.52,496.37C438.81,490.85 431.88,486.28 424.98,482.22C418.08,478.16 410.63,474.74 403.10,471.99C395.56,469.24 387.66,467.14 379.76,465.72C371.86,464.31 363.73,463.60 355.70,463.52C347.66,463.43 339.53,464.07 331.54,465.23C323.55,466.40 315.57,468.19 307.76,470.51C299.94,472.83 292.11,475.62 284.64,479.16C277.18,482.69 269.66,486.75 262.96,491.70C256.25,496.65 249.79,502.45 244.42,508.85C239.05,515.25 234.46,522.62 230.75,530.09C227.04,537.55 224.34,545.66 222.16,553.62C219.98,561.59 218.59,569.79 217.66,577.89C216.73,585.99 216.35,594.16 216.59,602.23C216.83,610.30 217.62,618.41 219.10,626.31C220.57,634.22 222.69,642.10 225.45,649.63C228.21,657.17 231.66,664.58 235.68,671.52C239.69,678.47 244.38,685.17 249.53,691.31C254.69,697.46 260.47,703.24 266.61,708.39C272.76,713.55 279.46,718.24 286.40,722.25C293.35,726.26 300.76,729.71 308.30,732.46C315.83,735.20 323.73,737.32 331.63,738.71C339.53,740.10 347.68,740.83 355.70,740.80C363.71,740.77 371.89,740.10 379.73,738.54C387.57,736.98 395.49,734.69 402.72,731.43C409.95,728.18 416.85,723.73 423.11,719.00C429.38,714.27 434.74,708.42 440.31,703.06C445.88,697.70 451.12,692.38 456.53,686.84C461.95,681.30 467.64,675.94 472.77,669.82C477.90,663.70 483.71,657.33 487.34,650.14C490.97,642.96 493.43,634.69 494.53,626.71C495.64,618.72 495.10,610.19 493.96,602.23Z" fill="#0010d8" opacity="0.80" filter="url(#bl5_00)"/>
<defs><radialGradient id="jetdisc" cx="0.5" cy="0.5" r="0.5"><stop offset="0" stop-color="#0030f2"/><stop offset="0.75" stop-color="#0038f8"/><stop offset="0.88" stop-color="#0050ff"/><stop offset="0.95" stop-color="#0090ff"/><stop offset="1" stop-color="#0060ff"/></radialGradient></defs>
<path d="M487.28,602.23C486.13,594.66 484.15,586.98 481.07,580.12C477.99,573.26 472.16,567.50 468.80,561.06C465.44,554.62 463.35,548.39 460.90,541.48C458.46,534.58 457.59,526.28 454.14,519.62C450.70,512.95 445.64,506.75 440.23,501.48C434.81,496.21 428.21,491.87 421.64,488.00C415.07,484.13 407.98,480.89 400.81,478.27C393.64,475.65 386.12,473.65 378.60,472.30C371.09,470.95 363.35,470.28 355.70,470.19C348.05,470.11 340.31,470.71 332.70,471.81C325.09,472.91 317.49,474.60 310.04,476.78C302.59,478.97 295.11,481.60 287.98,484.94C280.85,488.28 273.66,492.12 267.25,496.82C260.84,501.52 254.65,507.04 249.53,513.14C244.41,519.24 240.05,526.30 236.53,533.43C233.02,540.55 230.48,548.30 228.44,555.91C226.39,563.51 225.10,571.33 224.24,579.05C223.37,586.77 223.03,594.54 223.27,602.23C223.51,609.91 224.26,617.63 225.67,625.15C227.08,632.67 229.09,640.18 231.72,647.35C234.36,654.52 237.64,661.57 241.46,668.18C245.28,674.79 249.74,681.17 254.65,687.02C259.56,692.87 265.06,698.37 270.91,703.28C276.76,708.18 283.13,712.65 289.74,716.46C296.35,720.28 303.41,723.57 310.58,726.18C317.76,728.79 325.27,730.81 332.79,732.13C340.31,733.46 348.07,734.15 355.70,734.12C363.33,734.09 371.11,733.46 378.57,731.96C386.03,730.47 393.57,728.28 400.44,725.16C407.30,722.03 413.84,717.75 419.77,713.22C425.70,708.68 430.74,703.06 436.01,697.95C441.29,692.84 446.26,687.79 451.42,682.55C456.58,677.31 462.04,672.26 466.99,666.48C471.93,660.70 477.57,654.68 481.06,647.86C484.56,641.04 486.92,633.15 487.96,625.55C488.99,617.94 488.42,609.80 487.28,602.23Z" fill="url(#jetdisc)" filter="url(#bl1_60)"/>
<path d="M488.11,602.23C486.96,594.61 484.98,586.88 481.89,579.98C478.80,573.07 472.96,567.26 469.59,560.77C466.21,554.29 464.09,548.01 461.63,541.07C459.16,534.12 458.26,525.78 454.78,519.08C451.31,512.38 446.22,506.14 440.76,500.84C435.31,495.54 428.67,491.17 422.06,487.28C415.45,483.39 408.31,480.12 401.10,477.49C393.88,474.85 386.32,472.83 378.75,471.48C371.18,470.12 363.39,469.44 355.70,469.36C348.00,469.28 340.21,469.88 332.56,470.99C324.90,472.10 317.25,473.80 309.75,476.00C302.26,478.20 294.74,480.85 287.56,484.22C280.39,487.58 273.16,491.45 266.71,496.18C260.27,500.91 254.04,506.47 248.89,512.61C243.74,518.75 239.35,525.84 235.81,533.01C232.27,540.18 229.72,547.97 227.65,555.62C225.58,563.27 224.28,571.13 223.41,578.90C222.54,586.67 222.20,594.49 222.44,602.23C222.68,609.96 223.43,617.73 224.85,625.30C226.27,632.87 228.29,640.42 230.94,647.64C233.59,654.85 236.89,661.95 240.74,668.60C244.58,675.25 249.07,681.67 254.01,687.55C258.95,693.44 264.49,698.98 270.37,703.92C276.26,708.85 282.67,713.35 289.33,717.19C295.98,721.03 303.08,724.34 310.30,726.97C317.52,729.59 325.08,731.62 332.65,732.95C340.21,734.29 348.02,734.99 355.70,734.96C363.37,734.93 371.21,734.29 378.72,732.79C386.22,731.28 393.81,729.08 400.72,725.94C407.63,722.80 414.22,718.50 420.19,713.94C426.16,709.38 431.24,703.73 436.55,698.59C441.86,693.45 446.86,688.37 452.06,683.09C457.25,677.81 462.74,672.72 467.71,666.90C472.67,661.08 478.34,655.01 481.85,648.14C485.36,641.28 487.74,633.35 488.78,625.69C489.82,618.04 489.26,609.85 488.11,602.23Z" fill="#000" filter="url(#texjet)"/>
<ellipse cx="253.84" cy="537.52" rx="5.01" ry="5.01" fill="#00d0ff" opacity="0.80" filter="url(#bl1_50)"/>
<ellipse cx="249.67" cy="546.71" rx="4.17" ry="4.17" fill="#00c0ff" opacity="0.80" filter="url(#bl1_50)"/>
<ellipse cx="271.38" cy="541.70" rx="4.17" ry="4.17" fill="#80ff80" opacity="0.80" filter="url(#bl1_50)"/>
<ellipse cx="334.82" cy="570.08" rx="4.17" ry="4.17" fill="#00c8ff" opacity="0.70" filter="url(#bl1_50)"/>
<ellipse cx="439.18" cy="628.53" rx="3.34" ry="3.34" fill="#00e0ff" opacity="0.70" filter="url(#bl1_50)"/>
<ellipse cx="401.61" cy="624.35" rx="2.92" ry="2.92" fill="#00d0ff" opacity="0.70" filter="url(#bl1_50)"/>
<ellipse cx="334.82" cy="657.75" rx="2.92" ry="2.92" fill="#00d0ff" opacity="0.60" filter="url(#bl1_50)"/>
<ellipse cx="259.69" cy="515.82" rx="6.68" ry="6.68" fill="#0090ff" opacity="0.40" filter="url(#bl1_50)"/>
<ellipse cx="301.43" cy="507.47" rx="6.68" ry="6.68" fill="#0090ff" opacity="0.35" filter="url(#bl1_50)"/>
<ellipse cx="418.31" cy="523.33" rx="20.87" ry="4.17" fill="#0020e0" opacity="0.60" filter="url(#bl2_50)"/>
<ellipse cx="326.48" cy="599.30" rx="16.70" ry="6.68" fill="#0028e8" opacity="0.40" filter="url(#bl2_50)"/>
<ellipse cx="384.92" cy="632.70" rx="12.52" ry="5.84" fill="#0028e8" opacity="0.40" filter="url(#bl2_50)"/>
<path d="M482.27,602.23C481.78,598.55 481.21,594.87 480.19,591.33C479.17,587.80 477.79,584.29 476.13,580.99C474.48,577.69 472.27,574.56 470.27,571.53C468.26,568.49 465.90,565.72 464.10,562.77C462.29,559.83 460.67,556.99 459.41,553.86C458.16,550.73 457.45,547.41 456.57,543.99C455.68,540.56 455.15,536.84 454.11,533.31C453.07,529.79 451.91,526.15 450.31,522.84C448.70,519.52 446.71,516.35 444.49,513.43C442.28,510.51 439.69,507.83 437.01,505.32C434.33,502.81 431.41,500.51 428.43,498.35C425.45,496.19 422.32,494.20 419.14,492.34C415.95,490.49 412.66,488.78 409.32,487.22C405.98,485.66 402.56,484.24 399.10,482.98C395.63,481.71 392.10,480.60 388.54,479.64C384.98,478.69 381.37,477.88 377.73,477.23C374.10,476.59 370.43,476.09 366.76,475.76C363.09,475.42 359.39,475.24 355.70,475.20C352.00,475.17 348.30,475.29 344.61,475.55C340.93,475.81 337.24,476.21 333.57,476.75C329.90,477.28 326.25,477.95 322.61,478.74C318.97,479.53 315.35,480.45 311.75,481.49C308.16,482.53 304.57,483.69 301.03,484.99C297.48,486.29 293.95,487.70 290.49,489.28C287.02,490.86 283.57,492.56 280.24,494.46C276.90,496.36 273.60,498.41 270.47,500.66C267.33,502.91 264.28,505.34 261.43,507.96C258.58,510.57 255.86,513.40 253.37,516.36C250.88,519.33 248.57,522.50 246.49,525.76C244.41,529.02 242.54,532.45 240.87,535.93C239.20,539.41 237.75,543.01 236.46,546.63C235.18,550.24 234.09,553.93 233.14,557.62C232.19,561.31 231.41,565.03 230.75,568.75C230.09,572.46 229.57,576.19 229.17,579.92C228.77,583.64 228.49,587.37 228.34,591.08C228.20,594.80 228.17,598.52 228.28,602.23C228.40,605.93 228.63,609.63 229.02,613.31C229.41,616.99 229.93,620.66 230.61,624.28C231.28,627.91 232.10,631.53 233.07,635.09C234.04,638.64 235.16,642.17 236.43,645.64C237.70,649.10 239.12,652.52 240.68,655.86C242.24,659.20 243.95,662.49 245.80,665.68C247.64,668.87 249.63,672.00 251.75,675.01C253.86,678.03 256.12,680.97 258.49,683.80C260.86,686.62 263.36,689.35 265.97,691.96C268.57,694.57 271.30,697.07 274.13,699.44C276.95,701.81 279.89,704.06 282.91,706.18C285.93,708.29 289.05,710.28 292.25,712.13C295.44,713.97 298.73,715.68 302.07,717.24C305.41,718.80 308.83,720.21 312.29,721.47C315.76,722.74 319.29,723.85 322.85,724.80C326.41,725.76 330.03,726.56 333.66,727.20C337.29,727.84 340.96,728.32 344.64,728.64C348.31,728.96 352.01,729.12 355.70,729.11C359.38,729.11 363.08,728.94 366.75,728.59C370.42,728.24 374.09,727.74 377.70,727.03C381.31,726.32 384.91,725.45 388.42,724.35C391.92,723.26 395.39,721.97 398.72,720.45C402.05,718.93 405.31,717.19 408.40,715.26C411.49,713.33 414.45,711.14 417.27,708.88C420.09,706.61 422.73,704.12 425.32,701.66C427.90,699.20 430.33,696.61 432.79,694.11C435.26,691.61 437.65,689.11 440.11,686.65C442.58,684.18 445.07,681.79 447.58,679.33C450.09,676.87 452.66,674.44 455.17,671.88C457.68,669.33 460.20,666.72 462.65,663.98C465.09,661.24 467.55,658.42 469.84,655.45C472.12,652.48 474.49,649.42 476.36,646.15C478.22,642.87 479.93,639.39 481.04,635.81C482.15,632.24 482.68,628.42 483.02,624.68C483.37,620.94 483.24,617.12 483.11,613.37C482.98,609.63 482.75,605.90 482.27,602.23Z" fill="none" opacity="0.35" filter="url(#bl2_50)" stroke="#00a8ff" stroke-width="9.18"/>
<path d="M419.98,490.88 L414.23,487.75 L408.33,484.92 L402.29,482.40 L396.14,480.18 L389.87,478.28 L383.52,476.70 L377.10,475.45 L370.62,474.53 L364.10,473.93 L357.57,473.67 L351.02,473.74 L344.49,474.15 L337.99,474.88 L331.53,475.95 L325.14,477.34 L318.82,479.06 L312.60,481.09 L306.50,483.44 L300.52,486.10 L294.68,489.06 L289.00,492.31 L283.49,495.85 L278.17,499.66 L273.05,503.74" fill="none" stroke="#00c0ff" stroke-width="7.51" stroke-linecap="round" opacity="0.50" filter="url(#bl2_50)"/>
<path d="M229.94,593.43 L229.81,595.63 L229.71,597.83 L229.65,600.03 L229.63,602.23 L229.65,604.43 L229.71,606.63 L229.81,608.82 L229.94,611.02 L230.11,613.21 L230.32,615.40 L230.57,617.59 L230.86,619.77 L231.19,621.95 L231.55,624.12 L231.95,626.28 L232.39,628.44 L232.86,630.59 L233.38,632.73 L233.93,634.86 L234.52,636.98 L235.14,639.09 L235.80,641.18 L236.50,643.27 L237.24,645.34" fill="none" stroke="#30e0ff" stroke-width="6.68" stroke-linecap="round" opacity="0.70" filter="url(#bl2_00)"/>
<path d="M291.41,713.57 L296.33,716.27 L301.36,718.75 L306.50,721.01 L311.72,723.04 L317.03,724.85 L322.42,726.42 L327.87,727.75 L333.37,728.84 L338.91,729.70 L344.49,730.31 L350.09,730.68 L355.70,730.80 L361.30,730.68 L366.90,730.31 L372.48,729.70 L378.02,728.84 L383.52,727.75 L388.97,726.42 L394.36,724.85 L399.67,723.04 L404.90,721.01 L410.03,718.75 L415.06,716.27 L419.98,713.57" fill="none" stroke="#00b0ff" stroke-width="7.51" stroke-linecap="round" opacity="0.50" filter="url(#bl2_50)"/>
<ellipse cx="355.70" cy="642.72" rx="87.66" ry="3.76" fill="#0080ff" opacity="0.55" filter="url(#bl2_50)"/>
<ellipse cx="359.87" cy="676.95" rx="75.14" ry="3.76" fill="#0080ff" opacity="0.55" filter="url(#bl2_50)"/>
<ellipse cx="351.52" cy="496.62" rx="58.44" ry="3.76" fill="#0080ff" opacity="0.55" filter="url(#bl2_50)"/>
<ellipse cx="364.04" cy="709.51" rx="45.92" ry="3.76" fill="#0080ff" opacity="0.55" filter="url(#bl2_50)"/>
<ellipse cx="237.98" cy="651.90" rx="2.92" ry="5.01" fill="#20d8ff" transform="rotate(-20.0 237.98 651.90)" opacity="0.70" filter="url(#bl1_20)"/>
<ellipse cx="243.83" cy="666.10" rx="2.92" ry="4.17" fill="#20d8ff" transform="rotate(-20.0 243.83 666.10)" opacity="0.70" filter="url(#bl1_20)"/>
<ellipse cx="232.14" cy="603.48" rx="3.34" ry="6.68" fill="#20d8ff" transform="rotate(-20.0 232.14 603.48)" opacity="0.70" filter="url(#bl1_20)"/>
<ellipse cx="258.02" cy="616.00" rx="3.34" ry="3.34" fill="#20d8ff" transform="rotate(-20.0 258.02 616.00)" opacity="0.70" filter="url(#bl1_20)"/>
<ellipse cx="272.21" cy="611.83" rx="4.17" ry="2.50" fill="#20d8ff" transform="rotate(-20.0 272.21 611.83)" opacity="0.70" filter="url(#bl1_20)"/>
<ellipse cx="305.60" cy="610.99" rx="4.17" ry="2.50" fill="#20d8ff" transform="rotate(-20.0 305.60 610.99)" opacity="0.70" filter="url(#bl1_20)"/>
<ellipse cx="389.09" cy="653.57" rx="5.01" ry="2.50" fill="#20d8ff" transform="rotate(-20.0 389.09 653.57)" opacity="0.70" filter="url(#bl1_20)"/>
<ellipse cx="409.96" cy="695.32" rx="6.68" ry="2.50" fill="#20d8ff" transform="rotate(-20.0 409.96 695.32)" opacity="0.70" filter="url(#bl1_20)"/>
<ellipse cx="238.82" cy="695.32" rx="1.25" ry="45.92" fill="#0020c0" transform="rotate(-28.0 238.82 695.32)" opacity="0.60" filter="url(#bl1_20)"/>
<ellipse cx="226.29" cy="594.30" rx="4.17" ry="15.03" fill="#40ffc0" opacity="0.90" filter="url(#bl1_00)"/>
<ellipse cx="230.47" cy="605.98" rx="3.34" ry="8.35" fill="#c0ff40" opacity="0.70" filter="url(#bl0_80)"/>
<ellipse cx="478.42" cy="636.87" rx="4.17" ry="26.72" fill="#20e0ff" transform="rotate(20.0 478.42 636.87)" opacity="0.80" filter="url(#bl1_20)"/>
<ellipse cx="491.78" cy="574.26" rx="8.35" ry="15.03" fill="#0090ff" opacity="0.70" filter="url(#bl1_50)"/>
<ellipse cx="455.46" cy="536.69" rx="2.92" ry="24.21" fill="#a0ff60" transform="rotate(-31.0 455.46 536.69)" opacity="0.95" filter="url(#bl0_90)"/>
<ellipse cx="467.15" cy="535.02" rx="2.50" ry="21.71" fill="#00c0ff" transform="rotate(-31.0 467.15 535.02)" opacity="0.70" filter="url(#bl0_90)"/>
<ellipse cx="418.31" cy="435.67" rx="1.67" ry="2.67" fill="#0030f0" transform="rotate(-30.0 418.31 435.67)" opacity="0.55" filter="url(#bl0_60)"/>
<ellipse cx="421.77" cy="444.26" rx="1.67" ry="2.67" fill="#0030f0" transform="rotate(-30.0 421.77 444.26)" opacity="0.55" filter="url(#bl0_60)"/>
<ellipse cx="425.23" cy="452.84" rx="1.67" ry="2.67" fill="#0030f0" transform="rotate(-30.0 425.23 452.84)" opacity="0.55" filter="url(#bl0_60)"/>
<ellipse cx="428.69" cy="461.43" rx="1.67" ry="2.67" fill="#0030f0" transform="rotate(-30.0 428.69 461.43)" opacity="0.55" filter="url(#bl0_60)"/>
<ellipse cx="432.14" cy="470.02" rx="1.67" ry="2.67" fill="#0030f0" transform="rotate(-30.0 432.14 470.02)" opacity="0.55" filter="url(#bl0_60)"/>
<ellipse cx="435.60" cy="478.61" rx="1.67" ry="2.67" fill="#0030f0" transform="rotate(-30.0 435.60 478.61)" opacity="0.55" filter="url(#bl0_60)"/>
<ellipse cx="439.06" cy="487.19" rx="1.67" ry="2.67" fill="#0030f0" transform="rotate(-30.0 439.06 487.19)" opacity="0.55" filter="url(#bl0_60)"/>
<ellipse cx="442.52" cy="495.78" rx="1.67" ry="2.67" fill="#0030f0" transform="rotate(-30.0 442.52 495.78)" opacity="0.55" filter="url(#bl0_60)"/>
<ellipse cx="282.23" cy="570.08" rx="3.17" ry="3.17" fill="#000070" opacity="0.95" filter="url(#bl0_25)"/>
<ellipse cx="285.57" cy="577.60" rx="2.67" ry="2.67" fill="#000070" opacity="0.95" filter="url(#bl0_25)"/>
<ellipse cx="288.91" cy="585.95" rx="2.34" ry="2.34" fill="#000070" opacity="0.95" filter="url(#bl0_25)"/>
<ellipse cx="315.21" cy="584.69" rx="2.34" ry="2.34" fill="#000070" opacity="0.95" filter="url(#bl0_25)"/>
<ellipse cx="350.85" cy="539.19" rx="2.50" ry="2.50" fill="#000070" opacity="0.95" filter="url(#bl0_25)"/>
<ellipse cx="245.50" cy="635.46" rx="2.50" ry="2.50" fill="#000070" opacity="0.95" filter="url(#bl0_25)"/>
<ellipse cx="248.00" cy="646.64" rx="2.50" ry="2.50" fill="#000070" opacity="0.95" filter="url(#bl0_25)"/>
<ellipse cx="252.17" cy="657.91" rx="2.34" ry="2.34" fill="#000070" opacity="0.95" filter="url(#bl0_25)"/>
<ellipse cx="256.35" cy="669.10" rx="2.34" ry="2.34" fill="#000070" opacity="0.95" filter="url(#bl0_25)"/>
<ellipse cx="455.54" cy="613.08" rx="2.09" ry="2.09" fill="#000070" opacity="0.95" filter="url(#bl0_25)"/>
<ellipse cx="455.54" cy="624.27" rx="2.09" ry="2.09" fill="#000070" opacity="0.95" filter="url(#bl0_25)"/>
<ellipse cx="456.71" cy="634.37" rx="1.84" ry="1.84" fill="#000070" opacity="0.95" filter="url(#bl0_25)"/>
<ellipse cx="473.41" cy="594.30" rx="2.09" ry="2.09" fill="#000070" opacity="0.95" filter="url(#bl0_25)"/>
<ellipse cx="480.92" cy="595.97" rx="1.67" ry="1.67" fill="#000070" opacity="0.95" filter="url(#bl0_25)"/>
<ellipse cx="280.56" cy="555.89" rx="11.27" ry="12.94" fill="#20e0ff" transform="rotate(25.0 280.56 555.89)" opacity="0.85" filter="url(#bl1_60)"/>
<ellipse cx="280.56" cy="555.89" rx="9.35" ry="11.02" fill="#ffe000" transform="rotate(25.0 280.56 555.89)" opacity="0.95" filter="url(#bl1_00)"/>
<ellipse cx="280.56" cy="555.89" rx="7.93" ry="9.60" fill="#ff2000" transform="rotate(25.0 280.56 555.89)" filter="url(#bl0_80)"/>
<ellipse cx="280.56" cy="555.89" rx="6.68" ry="8.35" fill="#800000" transform="rotate(25.0 280.56 555.89)" filter="url(#bl0_60)"/>
<ellipse cx="295.59" cy="562.99" rx="4.51" ry="5.18" fill="#ffe000" opacity="0.95" filter="url(#bl1_00)"/>
<ellipse cx="295.59" cy="562.99" rx="3.09" ry="3.76" fill="#ff2000" filter="url(#bl0_80)"/>
<ellipse cx="295.59" cy="562.99" rx="1.84" ry="2.50" fill="#ff3000" filter="url(#bl0_60)"/>
<ellipse cx="303.27" cy="561.74" rx="4.34" ry="5.59" fill="#ffe000" opacity="0.95" filter="url(#bl1_00)"/>
<ellipse cx="303.27" cy="561.74" rx="2.92" ry="4.17" fill="#ff2000" filter="url(#bl0_80)"/>
<ellipse cx="303.27" cy="561.74" rx="1.67" ry="2.92" fill="#ff2000" filter="url(#bl0_60)"/>
<ellipse cx="311.87" cy="572.59" rx="9.60" ry="12.11" fill="#20e0ff" opacity="0.85" filter="url(#bl1_60)"/>
<ellipse cx="311.87" cy="572.59" rx="7.68" ry="10.19" fill="#ffe000" opacity="0.95" filter="url(#bl1_00)"/>
<ellipse cx="311.87" cy="572.59" rx="6.26" ry="8.77" fill="#ff2000" filter="url(#bl0_80)"/>
<ellipse cx="311.87" cy="572.59" rx="5.01" ry="7.51" fill="#800000" filter="url(#bl0_60)"/>
<ellipse cx="326.48" cy="569.25" rx="6.68" ry="7.93" fill="#20e0ff" opacity="0.85" filter="url(#bl1_60)"/>
<ellipse cx="326.48" cy="569.25" rx="4.76" ry="6.01" fill="#ffe000" opacity="0.95" filter="url(#bl1_00)"/>
<ellipse cx="326.48" cy="569.25" rx="3.34" ry="4.59" fill="#ff2000" filter="url(#bl0_80)"/>
<ellipse cx="326.48" cy="569.25" rx="2.09" ry="3.34" fill="#ff2000" filter="url(#bl0_60)"/>
<ellipse cx="350.85" cy="531.43" rx="6.68" ry="6.26" fill="#20e0ff" opacity="0.85" filter="url(#bl1_60)"/>
<ellipse cx="350.85" cy="531.43" rx="4.76" ry="4.34" fill="#ffe000" opacity="0.95" filter="url(#bl1_00)"/>
<ellipse cx="350.85" cy="531.43" rx="3.34" ry="2.92" fill="#ff2000" filter="url(#bl0_80)"/>
<ellipse cx="350.85" cy="531.43" rx="2.09" ry="1.67" fill="#ff4000" filter="url(#bl0_60)"/>
<ellipse cx="477.58" cy="572.59" rx="15.86" ry="17.53" fill="#20e0ff" opacity="0.85" filter="url(#bl1_60)"/>
<ellipse cx="477.58" cy="572.59" rx="13.94" ry="15.61" fill="#ffe000" opacity="0.95" filter="url(#bl1_00)"/>
<ellipse cx="477.58" cy="572.59" rx="12.52" ry="14.19" fill="#ff2000" filter="url(#bl0_80)"/>
<ellipse cx="477.58" cy="572.59" rx="11.27" ry="12.94" fill="#800000" filter="url(#bl0_60)"/>
<ellipse cx="476.75" cy="559.65" rx="2.92" ry="2.09" fill="#ffd000" opacity="0.90" filter="url(#bl0_80)"/>
<ellipse cx="467.57" cy="591.79" rx="1.25" ry="3.76" fill="#ff3000" opacity="0.90" filter="url(#bl0_60)"/>
<ellipse cx="474.24" cy="594.30" rx="1.25" ry="3.76" fill="#ff3000" opacity="0.90" filter="url(#bl0_60)"/>
<ellipse cx="482.59" cy="593.46" rx="1.25" ry="3.76" fill="#ff3000" opacity="0.90" filter="url(#bl0_60)"/>
<ellipse cx="463.22" cy="627.11" rx="8.10" ry="11.27" fill="#20e0ff" transform="rotate(10.0 463.22 627.11)" opacity="0.85" filter="url(#bl1_60)"/>
<ellipse cx="463.22" cy="627.11" rx="6.18" ry="9.35" fill="#ffe000" transform="rotate(10.0 463.22 627.11)" opacity="0.95" filter="url(#bl1_00)"/>
<ellipse cx="463.22" cy="627.11" rx="4.76" ry="7.93" fill="#ff2000" transform="rotate(10.0 463.22 627.11)" filter="url(#bl0_80)"/>
<ellipse cx="463.22" cy="627.11" rx="3.51" ry="6.68" fill="#800000" transform="rotate(10.0 463.22 627.11)" filter="url(#bl0_60)"/>
<ellipse cx="480.09" cy="622.85" rx="6.26" ry="8.35" fill="#20e0ff" opacity="0.85" filter="url(#bl1_60)"/>
<ellipse cx="480.09" cy="622.85" rx="4.34" ry="6.43" fill="#ffe000" opacity="0.95" filter="url(#bl1_00)"/>
<ellipse cx="480.09" cy="622.85" rx="2.92" ry="5.01" fill="#ff2000" filter="url(#bl0_80)"/>
<ellipse cx="480.09" cy="622.85" rx="1.67" ry="3.76" fill="#ff3000" filter="url(#bl0_60)"/>
<ellipse cx="478.00" cy="647.73" rx="5.76" ry="12.11" fill="#20e0ff" transform="rotate(20.0 478.00 647.73)" opacity="0.85" filter="url(#bl1_60)"/>
<ellipse cx="478.00" cy="647.73" rx="3.84" ry="10.19" fill="#ffe000" transform="rotate(20.0 478.00 647.73)" opacity="0.95" filter="url(#bl1_00)"/>
<ellipse cx="478.00" cy="647.73" rx="2.42" ry="8.77" fill="#ff2000" transform="rotate(20.0 478.00 647.73)" filter="url(#bl0_80)"/>
<ellipse cx="478.00" cy="647.73" rx="1.17" ry="7.51" fill="#ff5000" transform="rotate(20.0 478.00 647.73)" filter="url(#bl0_60)"/>
<ellipse cx="474.24" cy="662.76" rx="1.25" ry="5.01" fill="#80ff80" transform="rotate(25.0 474.24 662.76)" opacity="0.80" filter="url(#bl1_00)"/>
<ellipse cx="460.05" cy="611.83" rx="2.50" ry="3.34" fill="#20e0ff" opacity="0.80" filter="url(#bl1_20)"/>
<ellipse cx="238.82" cy="627.69" rx="10.44" ry="13.78" fill="#20e0ff" transform="rotate(15.0 238.82 627.69)" opacity="0.85" filter="url(#bl1_60)"/>
<ellipse cx="238.82" cy="627.69" rx="8.52" ry="11.85" fill="#ffe000" transform="rotate(15.0 238.82 627.69)" opacity="0.95" filter="url(#bl1_00)"/>
<ellipse cx="238.82" cy="627.69" rx="7.10" ry="10.44" fill="#ff2000" transform="rotate(15.0 238.82 627.69)" filter="url(#bl0_80)"/>
<ellipse cx="238.82" cy="627.69" rx="5.84" ry="9.18" fill="#800000" transform="rotate(15.0 238.82 627.69)" filter="url(#bl0_60)"/>
<ellipse cx="227.63" cy="613.08" rx="4.34" ry="4.76" fill="#ffe000" opacity="0.95" filter="url(#bl1_00)"/>
<ellipse cx="227.63" cy="613.08" rx="2.92" ry="3.34" fill="#ff2000" filter="url(#bl0_80)"/>
<ellipse cx="227.63" cy="613.08" rx="1.67" ry="2.09" fill="#ff8000" filter="url(#bl0_60)"/>
<ellipse cx="239.65" cy="642.47" rx="4.17" ry="5.18" fill="#ffe000" opacity="0.95" filter="url(#bl1_00)"/>
<ellipse cx="239.65" cy="642.47" rx="2.76" ry="3.76" fill="#ff2000" filter="url(#bl0_80)"/>
<ellipse cx="239.65" cy="642.47" rx="1.50" ry="2.50" fill="#ff2000" filter="url(#bl0_60)"/>
<ellipse cx="280.14" cy="557.98" rx="4.17" ry="5.43" fill="none" transform="rotate(20.0 280.14 557.98)" stroke="#2030ff" stroke-width="2.2"/>
<ellipse cx="311.45" cy="573.01" rx="1.84" ry="4.17" fill="none" stroke="#2030ff" stroke-width="2"/>
<ellipse cx="476.75" cy="573.42" rx="8.35" ry="9.60" fill="none" stroke="#2030ff" stroke-width="2.2"/>
<ellipse cx="473.41" cy="578.02" rx="4.17" ry="5.18" fill="none" transform="rotate(-25.0 473.41 578.02)" stroke="#40ffd0" stroke-width="2"/>
<ellipse cx="241.66" cy="629.19" rx="4.17" ry="5.01" fill="none" stroke="#2030ff" stroke-width="2.4"/>
<ellipse cx="241.66" cy="629.19" rx="1.67" ry="2.34" fill="#40ffb0"/>
</g>
<path d="M234.50 766.50V432.50M192.50 724.50H526.50M276.50 766.50V432.50M192.50 682.50H526.50M318.50 766.50V432.50M192.50 641.50H526.50M359.50 766.50V432.50M192.50 599.50H526.50M401.50 766.50V432.50M192.50 557.50H526.50M443.50 766.50V432.50M192.50 515.50H526.50M485.50 766.50V432.50M192.50 474.50H526.50" stroke="#b0b0b0" stroke-width="1.11" stroke-dasharray="4.11 1.78" fill="none"/>
<rect x="192.50" y="432.50" width="334.00" height="334.00" fill="none" stroke="#000" stroke-width="1.11"/>
<path d="M192.50 766.50v4.86M192.50 766.50h-4.86M234.50 766.50v4.86M192.50 724.50h-4.86M276.50 766.50v4.86M192.50 682.50h-4.86M318.50 766.50v4.86M192.50 641.50h-4.86M359.50 766.50v4.86M192.50 599.50h-4.86M401.50 766.50v4.86M192.50 557.50h-4.86M443.50 766.50v4.86M192.50 515.50h-4.86M485.50 766.50v4.86M192.50 474.50h-4.86" stroke="#000" stroke-width="1.11" fill="none"/>
<path d="M213.50 766.50v2.78M192.50 745.50h-2.78M255.50 766.50v2.78M192.50 703.50h-2.78M297.50 766.50v2.78M192.50 661.50h-2.78M338.50 766.50v2.78M192.50 620.50h-2.78M380.50 766.50v2.78M192.50 578.50h-2.78M422.50 766.50v2.78M192.50 536.50h-2.78M464.50 766.50v2.78M192.50 494.50h-2.78M505.50 766.50v2.78M192.50 453.50h-2.78" stroke="#000" stroke-width="0.83" fill="none"/>
<rect x="549.50" y="432.50" width="16.00" height="334.00" fill="url(#cg10)" stroke="#000" stroke-width="1.11"/>
<path d="M565.50 766.50h4.86M565.50 710.50h4.86M565.50 654.50h4.86M565.50 599.50h4.86M565.50 543.50h4.86M565.50 487.50h4.86M565.50 432.50h4.86" stroke="#000" stroke-width="1.11" fill="none"/>
<g clip-path="url(#clip11)">
<rect x="742.50" y="431.50" width="336.00" height="336.00" fill="#808080"/>
<ellipse cx="1049.86" cy="653.57" rx="4.59" ry="56.77" fill="#8c8c8c" transform="rotate(-20.0 1049.86 653.57)" opacity="0.90" filter="url(#bl2_50)"/>
<ellipse cx="814.42" cy="695.32" rx="2.50" ry="37.57" fill="#8a8a8a" transform="rotate(-28.0 814.42 695.32)" opacity="0.80" filter="url(#bl1_50)"/>
<ellipse cx="993.92" cy="474.07" rx="2.50" ry="37.57" fill="#888888" transform="rotate(-25.0 993.92 474.07)" opacity="0.70" filter="url(#bl1_50)"/>
<ellipse cx="902.59" cy="535.85" rx="4.17" ry="3.34" fill="#8e8e8e" opacity="0.90" filter="url(#bl1_20)"/>
<ellipse cx="880.38" cy="570.92" rx="4.17" ry="4.17" fill="#888888" opacity="0.90" filter="url(#bl1_20)"/>
<ellipse cx="791.05" cy="624.35" rx="3.76" ry="5.84" fill="#0a0a0a" transform="rotate(-15.0 791.05 624.35)" filter="url(#bl1_00)"/>
<ellipse cx="794.39" cy="636.87" rx="3.76" ry="5.01" fill="#fafafa" transform="rotate(-15.0 794.39 636.87)" filter="url(#bl1_00)"/>
<ellipse cx="829.87" cy="554.22" rx="2.50" ry="8.35" fill="#232323" transform="rotate(-5.0 829.87 554.22)" filter="url(#bl1_20)"/>
<ellipse cx="832.79" cy="565.91" rx="3.17" ry="3.76" fill="#ebebeb" filter="url(#bl1_00)"/>
<ellipse cx="862.01" cy="571.75" rx="2.09" ry="4.17" fill="#505050" filter="url(#bl1_00)"/>
<ellipse cx="864.93" cy="578.85" rx="2.34" ry="4.17" fill="#afafaf" filter="url(#bl1_00)"/>
<ellipse cx="1023.14" cy="573.84" rx="7.10" ry="9.60" fill="#050505" transform="rotate(-10.0 1023.14 573.84)" filter="url(#bl1_20)"/>
<ellipse cx="1029.40" cy="566.74" rx="2.50" ry="2.92" fill="#464646" filter="url(#bl1_00)"/>
<ellipse cx="1031.91" cy="574.26" rx="2.09" ry="4.17" fill="#aaaaaa" filter="url(#bl1_00)"/>
<ellipse cx="1028.15" cy="588.45" rx="4.17" ry="6.26" fill="#fafafa" transform="rotate(-10.0 1028.15 588.45)" filter="url(#bl1_00)"/>
<ellipse cx="1022.31" cy="590.96" rx="2.50" ry="3.34" fill="#505050" filter="url(#bl1_00)"/>
<ellipse cx="1035.67" cy="572.59" rx="2.50" ry="4.17" fill="#a0a0a0" opacity="0.90" filter="url(#bl1_00)"/>
<ellipse cx="1023.14" cy="622.68" rx="2.92" ry="4.17" fill="#696969" opacity="0.80" filter="url(#bl1_20)"/>
</g>
<path d="M785.50 766.50V432.50M743.50 724.50H1077.50M826.50 766.50V432.50M743.50 682.50H1077.50M868.50 766.50V432.50M743.50 641.50H1077.50M910.50 766.50V432.50M743.50 599.50H1077.50M952.50 766.50V432.50M743.50 557.50H1077.50M993.50 766.50V432.50M743.50 515.50H1077.50M1035.50 766.50V432.50M743.50 474.50H1077.50" stroke="#b0b0b0" stroke-width="1.11" stroke-dasharray="4.11 1.78" fill="none"/>
<rect x="743.50" y="432.50" width="334.00" height="334.00" fill="none" stroke="#000" stroke-width="1.11"/>
<path d="M743.50 766.50v4.86M743.50 766.50h-4.86M785.50 766.50v4.86M743.50 724.50h-4.86M826.50 766.50v4.86M743.50 682.50h-4.86M868.50 766.50v4.86M743.50 641.50h-4.86M910.50 766.50v4.86M743.50 599.50h-4.86M952.50 766.50v4.86M743.50 557.50h-4.86M993.50 766.50v4.86M743.50 515.50h-4.86M1035.50 766.50v4.86M743.50 474.50h-4.86" stroke="#000" stroke-width="1.11" fill="none"/>
<path d="M764.50 766.50v2.78M743.50 745.50h-2.78M806.50 766.50v2.78M743.50 703.50h-2.78M847.50 766.50v2.78M743.50 661.50h-2.78M889.50 766.50v2.78M743.50 620.50h-2.78M931.50 766.50v2.78M743.50 578.50h-2.78M973.50 766.50v2.78M743.50 536.50h-2.78M1014.50 766.50v2.78M743.50 494.50h-2.78M1056.50 766.50v2.78M743.50 453.50h-2.78" stroke="#000" stroke-width="0.83" fill="none"/>
<rect x="1099.50" y="432.50" width="17.00" height="334.00" fill="url(#cg11)" stroke="#000" stroke-width="1.11"/>
<path d="M1116.50 732.50h4.86M1116.50 666.50h4.86M1116.50 599.50h4.86M1116.50 532.50h4.86M1116.50 465.50h4.86" stroke="#000" stroke-width="1.11" fill="none"/>
<g clip-path="url(#clip20)">
<rect x="191.50" y="826.50" width="336.00" height="336.00" fill="#0d0887"/>
<polygon points="443.21,771.49 580.67,1077.37 272.71,1215.78 135.24,909.90" fill="#6c02a8"/>
<path d="M503.46,995.14C503.46,986.83 502.73,978.39 501.28,970.20C499.84,962.02 497.65,953.84 494.80,946.03C491.96,938.22 488.38,930.54 484.23,923.34C480.07,916.14 475.21,909.20 469.87,902.84C464.53,896.47 458.54,890.48 452.17,885.14C445.81,879.79 438.87,874.93 431.67,870.77C424.48,866.61 416.80,863.03 409.00,860.16C401.19,857.30 393.02,855.09 384.83,853.59C376.64,852.08 368.21,851.28 359.87,851.14C351.53,851.01 343.07,851.57 334.77,852.76C326.46,853.95 318.14,855.81 310.06,858.29C301.98,860.77 293.93,863.88 286.27,867.66C278.61,871.44 271.04,875.86 264.09,880.98C257.13,886.11 250.41,891.95 244.57,898.39C238.72,904.82 233.36,912.04 229.01,919.58C224.65,927.13 221.08,935.38 218.43,943.66C215.78,951.94 214.08,960.68 213.12,969.26C212.16,977.84 212.12,986.61 212.67,995.14C213.23,1003.67 214.56,1012.19 216.45,1020.43C218.34,1028.67 220.90,1036.80 224.02,1044.59C227.14,1052.37 230.88,1059.98 235.17,1067.14C239.46,1074.30 244.37,1081.19 249.77,1087.53C255.16,1093.87 261.16,1099.84 267.54,1105.17C273.93,1110.50 280.87,1115.36 288.07,1119.51C295.27,1123.66 302.95,1127.24 310.76,1130.08C318.57,1132.92 326.75,1135.11 334.94,1136.56C343.12,1138.00 351.56,1138.74 359.87,1138.74C368.18,1138.74 376.62,1138.00 384.80,1136.56C392.99,1135.11 401.17,1132.92 408.98,1130.08C416.79,1127.24 424.47,1123.66 431.67,1119.50C438.87,1115.34 445.80,1110.49 452.17,1105.14C458.54,1099.80 464.53,1093.81 469.87,1087.44C475.21,1081.08 480.07,1074.14 484.23,1066.94C488.38,1059.74 491.96,1052.06 494.80,1044.25C497.65,1036.44 499.84,1028.26 501.28,1020.08C502.73,1011.89 503.46,1003.45 503.46,995.14Z" fill="#8a0ca5" opacity="0.90" filter="url(#bl6_00)" clip-path="url(#sqclip)"/>
<path d="M493.45,995.14C493.45,987.41 492.76,979.56 491.42,971.94C490.07,964.33 488.03,956.72 485.39,949.45C482.75,942.19 479.42,935.05 475.55,928.35C471.68,921.65 467.17,915.20 462.20,909.28C457.23,903.35 451.65,897.78 445.73,892.81C439.81,887.84 433.36,883.32 426.66,879.45C419.97,875.58 412.83,872.24 405.57,869.58C398.31,866.91 390.71,864.86 383.09,863.45C375.47,862.05 367.63,861.30 359.87,861.16C352.11,861.02 344.24,861.54 336.51,862.63C328.77,863.72 321.03,865.42 313.49,867.70C305.95,869.99 298.44,872.84 291.28,876.34C284.12,879.83 277.03,883.91 270.52,888.66C264.02,893.41 257.71,898.84 252.24,904.83C246.77,910.81 241.75,917.55 237.68,924.59C233.62,931.64 230.29,939.35 227.84,947.08C225.39,954.82 223.84,962.99 222.99,971.00C222.13,979.01 222.13,987.19 222.69,995.14C223.25,1003.09 224.53,1011.02 226.32,1018.69C228.11,1026.36 230.51,1033.92 233.43,1041.16C236.35,1048.40 239.84,1055.47 243.85,1062.13C247.85,1068.78 252.42,1075.20 257.44,1081.09C262.46,1086.99 268.04,1092.54 273.98,1097.50C279.92,1102.46 286.38,1106.97 293.08,1110.83C299.78,1114.69 306.92,1118.02 314.18,1120.67C321.45,1123.31 329.06,1125.35 336.67,1126.69C344.29,1128.03 352.14,1128.72 359.87,1128.72C367.60,1128.72 375.45,1128.03 383.07,1126.69C390.68,1125.35 398.29,1123.31 405.56,1120.66C412.82,1118.02 419.96,1114.69 426.66,1110.82C433.35,1106.96 439.81,1102.44 445.73,1097.47C451.65,1092.50 457.23,1086.93 462.20,1081.00C467.17,1075.08 471.68,1068.63 475.55,1061.93C479.42,1055.23 482.75,1048.09 485.39,1040.83C488.03,1033.56 490.07,1025.95 491.42,1018.34C492.76,1010.72 493.45,1002.87 493.45,995.14Z" fill="#a82492" opacity="0.75" filter="url(#bl3_00)" clip-path="url(#sqclip)"/>
<defs><radialGradient id="pldisc" cx="0.5" cy="0.5" r="0.5"><stop offset="0" stop-color="#db5f66"/><stop offset="0.8" stop-color="#de6463"/><stop offset="0.95" stop-color="#e46e5c"/><stop offset="1" stop-color="#d05a6c"/></radialGradient></defs>
<path d="M488.85,995.14C488.85,987.67 488.19,980.09 486.89,972.74C485.60,965.39 483.63,958.04 481.08,951.02C478.52,944.01 475.31,937.11 471.57,930.65C467.84,924.18 463.48,917.95 458.68,912.23C453.88,906.51 448.50,901.13 442.78,896.33C437.06,891.53 430.83,887.16 424.37,883.42C417.90,879.68 411.01,876.47 404.00,873.89C396.99,871.32 389.65,869.33 382.29,867.98C374.94,866.62 367.37,865.89 359.87,865.75C352.37,865.62 344.77,866.11 337.30,867.15C329.83,868.19 322.35,869.82 315.06,872.02C307.77,874.21 300.51,876.95 293.58,880.31C286.65,883.67 279.78,887.60 273.48,892.18C267.17,896.75 261.06,901.99 255.76,907.78C250.45,913.56 245.59,920.08 241.66,926.89C237.73,933.70 234.52,941.17 232.16,948.65C229.80,956.14 228.32,964.05 227.51,971.80C226.69,979.55 226.73,987.46 227.28,995.14C227.84,1002.82 229.10,1010.48 230.84,1017.89C232.59,1025.30 234.92,1032.60 237.75,1039.59C240.58,1046.58 243.95,1053.41 247.82,1059.83C251.69,1066.26 256.10,1072.45 260.96,1078.14C265.81,1083.83 271.20,1089.20 276.93,1093.98C282.67,1098.77 288.90,1103.13 295.37,1106.86C301.84,1110.58 308.74,1113.80 315.75,1116.35C322.77,1118.90 330.12,1120.87 337.47,1122.17C344.82,1123.46 352.40,1124.13 359.87,1124.13C367.34,1124.13 374.92,1123.46 382.27,1122.17C389.62,1120.87 396.97,1118.90 403.99,1116.35C411.00,1113.80 417.90,1110.58 424.36,1106.85C430.83,1103.11 437.06,1098.75 442.78,1093.95C448.50,1089.15 453.88,1083.77 458.68,1078.05C463.48,1072.33 467.84,1066.10 471.57,1059.63C475.31,1053.17 478.52,1046.27 481.08,1039.26C483.63,1032.24 485.60,1024.89 486.89,1017.54C488.19,1010.19 488.85,1002.61 488.85,995.14Z" fill="url(#pldisc)" filter="url(#bl1_00)"/>
<path d="M487.60,995.14C487.60,987.75 486.95,980.24 485.66,972.96C484.38,965.68 482.43,958.40 479.90,951.45C477.37,944.50 474.19,937.68 470.49,931.27C466.79,924.87 462.47,918.70 457.72,913.03C452.97,907.37 447.64,902.04 441.98,897.29C436.31,892.53 430.14,888.21 423.74,884.51C417.34,880.81 410.52,877.62 403.57,875.07C396.63,872.52 389.36,870.55 382.07,869.21C374.79,867.87 367.30,867.14 359.87,867.01C352.44,866.87 344.92,867.35 337.52,868.38C330.12,869.41 322.71,871.03 315.49,873.19C308.27,875.36 301.07,878.07 294.20,881.40C287.33,884.72 280.53,888.61 274.28,893.14C268.03,897.67 261.97,902.85 256.72,908.58C251.46,914.31 246.64,920.76 242.74,927.51C238.85,934.27 235.67,941.67 233.33,949.08C231.00,956.50 229.54,964.34 228.74,972.02C227.94,979.69 227.98,987.53 228.53,995.14C229.09,1002.75 230.34,1010.34 232.07,1017.67C233.81,1025.01 236.12,1032.24 238.92,1039.16C241.73,1046.08 245.07,1052.84 248.91,1059.21C252.74,1065.57 257.11,1071.70 261.92,1077.34C266.72,1082.97 272.06,1088.28 277.74,1093.02C283.42,1097.76 289.59,1102.08 296.00,1105.77C302.41,1109.46 309.23,1112.65 316.18,1115.17C323.13,1117.70 330.41,1119.65 337.69,1120.94C344.97,1122.22 352.48,1122.88 359.87,1122.88C367.26,1122.88 374.77,1122.22 382.05,1120.94C389.33,1119.65 396.61,1117.70 403.56,1115.17C410.50,1112.64 417.33,1109.46 423.74,1105.76C430.14,1102.07 436.31,1097.74 441.97,1092.99C447.64,1088.24 452.97,1082.91 457.72,1077.25C462.47,1071.58 466.79,1065.41 470.49,1059.01C474.19,1052.60 477.37,1045.78 479.90,1038.83C482.43,1031.88 484.38,1024.60 485.66,1017.32C486.95,1010.04 487.60,1002.53 487.60,995.14Z" fill="#000" opacity="0.80" filter="url(#texpl)"/>
<ellipse cx="289.74" cy="929.18" rx="16.70" ry="7.51" fill="#b83488" opacity="0.50" filter="url(#bl4_00)"/>
<ellipse cx="305.60" cy="906.64" rx="12.52" ry="5.01" fill="#b83488" opacity="0.35" filter="url(#bl4_00)"/>
<ellipse cx="376.57" cy="944.21" rx="12.52" ry="6.68" fill="#b83488" opacity="0.25" filter="url(#bl4_00)"/>
<ellipse cx="445.86" cy="981.78" rx="6.68" ry="12.52" fill="#b83488" opacity="0.30" filter="url(#bl4_00)"/>
<ellipse cx="455.88" cy="1031.87" rx="5.01" ry="10.02" fill="#b83488" opacity="0.35" filter="url(#bl4_00)"/>
<ellipse cx="326.48" cy="1011.00" rx="10.02" ry="6.68" fill="#b83488" opacity="0.20" filter="url(#bl4_00)"/>
<ellipse cx="313.12" cy="1084.47" rx="12.52" ry="10.02" fill="#b83488" opacity="0.30" filter="url(#bl4_00)"/>
<ellipse cx="351.52" cy="1102.84" rx="12.52" ry="6.68" fill="#b83488" opacity="0.25" filter="url(#bl4_00)"/>
<path d="M298.93,887.75 L289.97,893.43 L281.52,899.84 L273.63,906.94 L266.36,914.67 L259.77,922.98 L253.89,931.81 L248.77,941.10 L244.44,950.79 L240.94,960.81 L238.29,971.08 L236.50,981.54 L235.60,992.11 L235.58,1002.72 L236.45,1013.29 L238.19,1023.76 L240.81,1034.04 L244.27,1044.07 L248.56,1053.77 L253.65,1063.08 L259.50,1071.94 L266.06,1080.27 L273.30,1088.03 L281.16,1095.15 L289.59,1101.60" fill="none" stroke="#f18a4c" stroke-width="8.35" stroke-linecap="round" opacity="0.65" filter="url(#bl2_50)"/>
<path d="M469.04,1059.01 L471.48,1054.59 L473.73,1050.08 L475.80,1045.49 L477.69,1040.81 L479.39,1036.06 L480.90,1031.25 L482.21,1026.38 L483.33,1021.47 L484.25,1016.51 L484.97,1011.52 L485.49,1006.51 L485.81,1001.47 L485.93,996.43 L485.85,991.39 L485.57,986.36 L485.08,981.34 L484.39,976.34 L483.51,971.38 L482.43,966.46 L481.15,961.58 L479.68,956.76 L478.01,952.00 L476.16,947.31 L474.12,942.70" fill="none" stroke="#ec7c54" stroke-width="6.68" stroke-linecap="round" opacity="0.50" filter="url(#bl2_50)"/>
<ellipse cx="234.64" cy="1011.00" rx="5.01" ry="25.05" fill="#f8a03c" transform="rotate(10.0 234.64 1011.00)" opacity="0.60" filter="url(#bl2_00)"/>
<ellipse cx="298.09" cy="949.64" rx="11.69" ry="5.84" fill="#f7a33a" opacity="0.80" filter="url(#bl1_60)"/>
<ellipse cx="283.06" cy="947.55" rx="13.36" ry="12.94" fill="#f89540" opacity="0.80" filter="url(#bl2_00)"/>
<ellipse cx="283.06" cy="947.55" rx="10.44" ry="10.02" fill="#fdc328" opacity="0.95" filter="url(#bl1_20)"/>
<ellipse cx="283.06" cy="947.55" rx="8.35" ry="7.93" fill="#f0f921" filter="url(#bl0_90)"/>
<ellipse cx="313.95" cy="965.92" rx="7.93" ry="10.02" fill="#f89540" opacity="0.80" filter="url(#bl2_00)"/>
<ellipse cx="313.95" cy="965.92" rx="5.01" ry="7.10" fill="#fdc328" opacity="0.95" filter="url(#bl1_20)"/>
<ellipse cx="313.95" cy="965.92" rx="2.92" ry="5.01" fill="#f0f921" filter="url(#bl0_90)"/>
<ellipse cx="327.73" cy="960.08" rx="4.17" ry="6.68" fill="#fdc328" opacity="0.95" filter="url(#bl1_20)"/>
<ellipse cx="327.73" cy="960.08" rx="2.09" ry="4.59" fill="#f0f921" filter="url(#bl0_90)"/>
<ellipse cx="353.19" cy="923.34" rx="3.76" ry="3.76" fill="#f89a3e" opacity="0.80" filter="url(#bl1_20)"/>
<ellipse cx="480.51" cy="967.59" rx="14.61" ry="17.53" fill="#f89540" opacity="0.80" filter="url(#bl2_00)"/>
<ellipse cx="480.51" cy="967.59" rx="11.69" ry="14.61" fill="#fdc328" opacity="0.95" filter="url(#bl1_20)"/>
<ellipse cx="480.51" cy="967.59" rx="9.60" ry="12.52" fill="#f0f921" filter="url(#bl0_90)"/>
<ellipse cx="242.16" cy="1021.02" rx="11.27" ry="14.61" fill="#f89540" transform="rotate(-15.0 242.16 1021.02)" opacity="0.80" filter="url(#bl2_00)"/>
<ellipse cx="242.16" cy="1021.02" rx="8.35" ry="11.69" fill="#fdc328" transform="rotate(-15.0 242.16 1021.02)" opacity="0.95" filter="url(#bl1_20)"/>
<ellipse cx="242.16" cy="1021.02" rx="6.26" ry="9.60" fill="#f0f921" transform="rotate(-15.0 242.16 1021.02)" filter="url(#bl0_90)"/>
<ellipse cx="466.73" cy="1017.76" rx="4.59" ry="6.68" fill="#fdc328" transform="rotate(15.0 466.73 1017.76)" opacity="0.95" filter="url(#bl1_20)"/>
<ellipse cx="466.73" cy="1017.76" rx="2.50" ry="4.59" fill="#f0f921" transform="rotate(15.0 466.73 1017.76)" filter="url(#bl0_90)"/>
<ellipse cx="450.03" cy="1046.07" rx="1.67" ry="3.76" fill="#f9a839" transform="rotate(20.0 450.03 1046.07)" opacity="0.70" filter="url(#bl0_80)"/>
<ellipse cx="438.35" cy="1073.62" rx="1.67" ry="3.76" fill="#f9a839" transform="rotate(20.0 438.35 1073.62)" opacity="0.70" filter="url(#bl0_80)"/>
<ellipse cx="431.67" cy="1093.66" rx="1.67" ry="3.76" fill="#f9a839" transform="rotate(20.0 431.67 1093.66)" opacity="0.70" filter="url(#bl0_80)"/>
<ellipse cx="247.17" cy="1048.57" rx="1.67" ry="3.76" fill="#f9a839" transform="rotate(20.0 247.17 1048.57)" opacity="0.70" filter="url(#bl0_80)"/>
<ellipse cx="484.93" cy="961.49" rx="3.17" ry="3.17" fill="none" stroke="#0d0887" stroke-width="2.2"/>
<ellipse cx="477.58" cy="969.68" rx="2.50" ry="4.59" fill="none" transform="rotate(-10.0 477.58 969.68)" stroke="#0d0887" stroke-width="2.4"/>
<ellipse cx="477.58" cy="970.93" rx="1.50" ry="2.50" fill="#3a0a8a" transform="rotate(-10.0 477.58 970.93)"/>
<ellipse cx="244.49" cy="1020.60" rx="2.09" ry="2.92" fill="#0d0887" transform="rotate(-20.0 244.49 1020.60)" filter="url(#bl0_20)"/>
<ellipse cx="287.82" cy="1040.22" rx="1.84" ry="1.84" fill="#f0f921" filter="url(#bl0_50)"/>
<ellipse cx="285.74" cy="1037.30" rx="0.83" ry="2.50" fill="#5a1090" transform="rotate(-30.0 285.74 1037.30)" opacity="0.60" filter="url(#bl0_60)"/>
<ellipse cx="289.91" cy="1043.15" rx="0.83" ry="2.50" fill="#5a1090" transform="rotate(-30.0 289.91 1043.15)" opacity="0.60" filter="url(#bl0_60)"/>
<ellipse cx="433.84" cy="950.89" rx="1.84" ry="1.84" fill="#f0f921" filter="url(#bl0_50)"/>
<ellipse cx="431.75" cy="947.97" rx="0.83" ry="2.50" fill="#5a1090" transform="rotate(-30.0 431.75 947.97)" opacity="0.60" filter="url(#bl0_60)"/>
<ellipse cx="435.92" cy="953.81" rx="0.83" ry="2.50" fill="#5a1090" transform="rotate(-30.0 435.92 953.81)" opacity="0.60" filter="url(#bl0_60)"/>
</g>
<path d="M234.50 1161.50V827.50M192.50 1119.50H526.50M276.50 1161.50V827.50M192.50 1077.50H526.50M318.50 1161.50V827.50M192.50 1036.50H526.50M359.50 1161.50V827.50M192.50 994.50H526.50M401.50 1161.50V827.50M192.50 952.50H526.50M443.50 1161.50V827.50M192.50 910.50H526.50M485.50 1161.50V827.50M192.50 869.50H526.50" stroke="#b0b0b0" stroke-width="1.11" stroke-dasharray="4.11 1.78" fill="none"/>
<rect x="192.50" y="827.50" width="334.00" height="334.00" fill="none" stroke="#000" stroke-width="1.11"/>
<path d="M192.50 1161.50v4.86M192.50 1161.50h-4.86M234.50 1161.50v4.86M192.50 1119.50h-4.86M276.50 1161.50v4.86M192.50 1077.50h-4.86M318.50 1161.50v4.86M192.50 1036.50h-4.86M359.50 1161.50v4.86M192.50 994.50h-4.86M401.50 1161.50v4.86M192.50 952.50h-4.86M443.50 1161.50v4.86M192.50 910.50h-4.86M485.50 1161.50v4.86M192.50 869.50h-4.86" stroke="#000" stroke-width="1.11" fill="none"/>
<path d="M213.50 1161.50v2.78M192.50 1140.50h-2.78M255.50 1161.50v2.78M192.50 1098.50h-2.78M297.50 1161.50v2.78M192.50 1056.50h-2.78M338.50 1161.50v2.78M192.50 1015.50h-2.78M380.50 1161.50v2.78M192.50 973.50h-2.78M422.50 1161.50v2.78M192.50 931.50h-2.78M464.50 1161.50v2.78M192.50 889.50h-2.78M505.50 1161.50v2.78M192.50 848.50h-2.78" stroke="#000" stroke-width="0.83" fill="none"/>
<rect x="549.50" y="827.50" width="16.00" height="334.00" fill="url(#cg20)" stroke="#000" stroke-width="1.11"/>
<path d="M565.50 1115.50h4.86M565.50 1057.50h4.86M565.50 1000.50h4.86M565.50 942.50h4.86M565.50 884.50h4.86M565.50 827.50h4.86" stroke="#000" stroke-width="1.11" fill="none"/>
<g clip-path="url(#clip21)">
<rect x="742.50" y="826.50" width="336.00" height="336.00" fill="#808080"/>
<ellipse cx="795.22" cy="1020.02" rx="1.84" ry="2.92" fill="#232323" transform="rotate(-20.0 795.22 1020.02)" filter="url(#bl0_60)"/>
<ellipse cx="796.89" cy="1015.18" rx="0.83" ry="6.68" fill="#696969" transform="rotate(-20.0 796.89 1015.18)" opacity="0.80" filter="url(#bl0_80)"/>
<ellipse cx="793.55" cy="1025.20" rx="0.83" ry="6.68" fill="#696969" transform="rotate(-20.0 793.55 1025.20)" opacity="0.80" filter="url(#bl0_80)"/>
<ellipse cx="1026.90" cy="969.76" rx="2.92" ry="3.76" fill="#5f5f5f" transform="rotate(-20.0 1026.90 969.76)" filter="url(#bl0_90)"/>
<ellipse cx="984.99" cy="950.06" rx="1.25" ry="2.50" fill="#646464" transform="rotate(-20.0 984.99 950.06)" opacity="0.90" filter="url(#bl0_60)"/>
<ellipse cx="931.31" cy="1094.49" rx="1.00" ry="2.50" fill="#6e6e6e" transform="rotate(-20.0 931.31 1094.49)" opacity="0.80" filter="url(#bl0_60)"/>
<ellipse cx="838.64" cy="867.40" rx="1.00" ry="6.68" fill="#737373" transform="rotate(-30.0 838.64 867.40)" opacity="0.60" filter="url(#bl0_80)"/>
</g>
<path d="M785.50 1161.50V827.50M743.50 1119.50H1077.50M826.50 1161.50V827.50M743.50 1077.50H1077.50M868.50 1161.50V827.50M743.50 1036.50H1077.50M910.50 1161.50V827.50M743.50 994.50H1077.50M952.50 1161.50V827.50M743.50 952.50H1077.50M993.50 1161.50V827.50M743.50 910.50H1077.50M1035.50 1161.50V827.50M743.50 869.50H1077.50" stroke="#b0b0b0" stroke-width="1.11" stroke-dasharray="4.11 1.78" fill="none"/>
<rect x="743.50" y="827.50" width="334.00" height="334.00" fill="none" stroke="#000" stroke-width="1.11"/>
<path d="M743.50 1161.50v4.86M743.50 1161.50h-4.86M785.50 1161.50v4.86M743.50 1119.50h-4.86M826.50 1161.50v4.86M743.50 1077.50h-4.86M868.50 1161.50v4.86M743.50 1036.50h-4.86M910.50 1161.50v4.86M743.50 994.50h-4.86M952.50 1161.50v4.86M743.50 952.50h-4.86M993.50 1161.50v4.86M743.50 910.50h-4.86M1035.50 1161.50v4.86M743.50 869.50h-4.86" stroke="#000" stroke-width="1.11" fill="none"/>
<path d="M764.50 1161.50v2.78M743.50 1140.50h-2.78M806.50 1161.50v2.78M743.50 1098.50h-2.78M847.50 1161.50v2.78M743.50 1056.50h-2.78M889.50 1161.50v2.78M743.50 1015.50h-2.78M931.50 1161.50v2.78M743.50 973.50h-2.78M973.50 1161.50v2.78M743.50 931.50h-2.78M1014.50 1161.50v2.78M743.50 889.50h-2.78M1056.50 1161.50v2.78M743.50 848.50h-2.78" stroke="#000" stroke-width="0.83" fill="none"/>
<rect x="1099.50" y="827.50" width="17.00" height="334.00" fill="url(#cg21)" stroke="#000" stroke-width="1.11"/>
<path d="M1116.50 1161.50h4.86M1116.50 1105.50h4.86M1116.50 1049.50h4.86M1116.50 994.50h4.86M1116.50 938.50h4.86M1116.50 882.50h4.86M1116.50 827.50h4.86" stroke="#000" stroke-width="1.11" fill="none"/>
<g font-family="Liberation Sans, sans-serif" fill="#000">
<text x="215.64" y="29.00" font-size="17.33" textLength="287.85" lengthAdjust="spacingAndGlyphs">I 2026-03-13T02:11:45, 3000 MHz</text>
<text x="181.71" y="392.00" font-size="14.14" textLength="22.38" lengthAdjust="spacingAndGlyphs">-20</text>
<text x="223.39" y="392.00" font-size="14.14" textLength="22.50" lengthAdjust="spacingAndGlyphs">-15</text>
<text x="265.13" y="392.00" font-size="14.14" textLength="22.50" lengthAdjust="spacingAndGlyphs">-10</text>
<text x="311.31" y="392.00" font-size="14.14" textLength="13.62" lengthAdjust="spacingAndGlyphs">-5</text>
<text x="355.49" y="392.00" font-size="14.14" textLength="8.75" lengthAdjust="spacingAndGlyphs">0</text>
<text x="397.24" y="392.00" font-size="14.14" textLength="8.75" lengthAdjust="spacingAndGlyphs">5</text>
<text x="434.54" y="392.00" font-size="14.14" textLength="17.62" lengthAdjust="spacingAndGlyphs">10</text>
<text x="476.28" y="392.00" font-size="14.14" textLength="17.62" lengthAdjust="spacingAndGlyphs">15</text>
<text x="160.80" y="375.78" font-size="14.14" textLength="22.38" lengthAdjust="spacingAndGlyphs">-20</text>
<text x="160.67" y="334.03" font-size="14.14" textLength="22.50" lengthAdjust="spacingAndGlyphs">-15</text>
<text x="160.67" y="292.29" font-size="14.14" textLength="22.50" lengthAdjust="spacingAndGlyphs">-10</text>
<text x="169.55" y="250.55" font-size="14.14" textLength="13.62" lengthAdjust="spacingAndGlyphs">-5</text>
<text x="174.42" y="208.81" font-size="14.14" textLength="8.75" lengthAdjust="spacingAndGlyphs">0</text>
<text x="174.42" y="167.06" font-size="14.14" textLength="8.75" lengthAdjust="spacingAndGlyphs">5</text>
<text x="165.55" y="125.32" font-size="14.14" textLength="17.62" lengthAdjust="spacingAndGlyphs">10</text>
<text x="165.55" y="83.58" font-size="14.14" textLength="17.62" lengthAdjust="spacingAndGlyphs">15</text>
<text x="762.96" y="29.00" font-size="17.33" textLength="294.35" lengthAdjust="spacingAndGlyphs">V 2026-03-13T02:11:45, 3000 MHz</text>
<text x="732.28" y="392.00" font-size="14.14" textLength="22.38" lengthAdjust="spacingAndGlyphs">-20</text>
<text x="773.96" y="392.00" font-size="14.14" textLength="22.50" lengthAdjust="spacingAndGlyphs">-15</text>
<text x="815.70" y="392.00" font-size="14.14" textLength="22.50" lengthAdjust="spacingAndGlyphs">-10</text>
<text x="861.88" y="392.00" font-size="14.14" textLength="13.62" lengthAdjust="spacingAndGlyphs">-5</text>
<text x="906.06" y="392.00" font-size="14.14" textLength="8.75" lengthAdjust="spacingAndGlyphs">0</text>
<text x="947.81" y="392.00" font-size="14.14" textLength="8.75" lengthAdjust="spacingAndGlyphs">5</text>
<text x="985.11" y="392.00" font-size="14.14" textLength="17.62" lengthAdjust="spacingAndGlyphs">10</text>
<text x="1026.85" y="392.00" font-size="14.14" textLength="17.62" lengthAdjust="spacingAndGlyphs">15</text>
<text x="711.37" y="375.78" font-size="14.14" textLength="22.38" lengthAdjust="spacingAndGlyphs">-20</text>
<text x="711.24" y="334.03" font-size="14.14" textLength="22.50" lengthAdjust="spacingAndGlyphs">-15</text>
<text x="711.24" y="292.29" font-size="14.14" textLength="22.50" lengthAdjust="spacingAndGlyphs">-10</text>
<text x="720.12" y="250.55" font-size="14.14" textLength="13.62" lengthAdjust="spacingAndGlyphs">-5</text>
<text x="724.99" y="208.81" font-size="14.14" textLength="8.75" lengthAdjust="spacingAndGlyphs">0</text>
<text x="724.99" y="167.06" font-size="14.14" textLength="8.75" lengthAdjust="spacingAndGlyphs">5</text>
<text x="716.12" y="125.32" font-size="14.14" textLength="17.62" lengthAdjust="spacingAndGlyphs">10</text>
<text x="716.12" y="83.58" font-size="14.14" textLength="17.62" lengthAdjust="spacingAndGlyphs">15</text>
<text x="215.77" y="424.00" font-size="17.33" textLength="287.60" lengthAdjust="spacingAndGlyphs">I 2026-03-13T02:09:42, 6000 MHz</text>
<text x="181.71" y="787.00" font-size="14.14" textLength="22.38" lengthAdjust="spacingAndGlyphs">-20</text>
<text x="223.39" y="787.00" font-size="14.14" textLength="22.50" lengthAdjust="spacingAndGlyphs">-15</text>
<text x="265.13" y="787.00" font-size="14.14" textLength="22.50" lengthAdjust="spacingAndGlyphs">-10</text>
<text x="311.31" y="787.00" font-size="14.14" textLength="13.62" lengthAdjust="spacingAndGlyphs">-5</text>
<text x="355.49" y="787.00" font-size="14.14" textLength="8.75" lengthAdjust="spacingAndGlyphs">0</text>
<text x="397.24" y="787.00" font-size="14.14" textLength="8.75" lengthAdjust="spacingAndGlyphs">5</text>
<text x="434.54" y="787.00" font-size="14.14" textLength="17.62" lengthAdjust="spacingAndGlyphs">10</text>
<text x="476.28" y="787.00" font-size="14.14" textLength="17.62" lengthAdjust="spacingAndGlyphs">15</text>
<text x="160.80" y="770.78" font-size="14.14" textLength="22.38" lengthAdjust="spacingAndGlyphs">-20</text>
<text x="160.67" y="729.03" font-size="14.14" textLength="22.50" lengthAdjust="spacingAndGlyphs">-15</text>
<text x="160.67" y="687.29" font-size="14.14" textLength="22.50" lengthAdjust="spacingAndGlyphs">-10</text>
<text x="169.55" y="645.55" font-size="14.14" textLength="13.62" lengthAdjust="spacingAndGlyphs">-5</text>
<text x="174.42" y="603.81" font-size="14.14" textLength="8.75" lengthAdjust="spacingAndGlyphs">0</text>
<text x="174.42" y="562.06" font-size="14.14" textLength="8.75" lengthAdjust="spacingAndGlyphs">5</text>
<text x="165.55" y="520.32" font-size="14.14" textLength="17.62" lengthAdjust="spacingAndGlyphs">10</text>
<text x="165.55" y="478.58" font-size="14.14" textLength="17.62" lengthAdjust="spacingAndGlyphs">15</text>
<text x="763.09" y="424.00" font-size="17.33" textLength="294.10" lengthAdjust="spacingAndGlyphs">V 2026-03-13T02:09:42, 6000 MHz</text>
<text x="732.28" y="787.00" font-size="14.14" textLength="22.38" lengthAdjust="spacingAndGlyphs">-20</text>
<text x="773.96" y="787.00" font-size="14.14" textLength="22.50" lengthAdjust="spacingAndGlyphs">-15</text>
<text x="815.70" y="787.00" font-size="14.14" textLength="22.50" lengthAdjust="spacingAndGlyphs">-10</text>
<text x="861.88" y="787.00" font-size="14.14" textLength="13.62" lengthAdjust="spacingAndGlyphs">-5</text>
<text x="906.06" y="787.00" font-size="14.14" textLength="8.75" lengthAdjust="spacingAndGlyphs">0</text>
<text x="947.81" y="787.00" font-size="14.14" textLength="8.75" lengthAdjust="spacingAndGlyphs">5</text>
<text x="985.11" y="787.00" font-size="14.14" textLength="17.62" lengthAdjust="spacingAndGlyphs">10</text>
<text x="1026.85" y="787.00" font-size="14.14" textLength="17.62" lengthAdjust="spacingAndGlyphs">15</text>
<text x="711.37" y="770.78" font-size="14.14" textLength="22.38" lengthAdjust="spacingAndGlyphs">-20</text>
<text x="711.24" y="729.03" font-size="14.14" textLength="22.50" lengthAdjust="spacingAndGlyphs">-15</text>
<text x="711.24" y="687.29" font-size="14.14" textLength="22.50" lengthAdjust="spacingAndGlyphs">-10</text>
<text x="720.12" y="645.55" font-size="14.14" textLength="13.62" lengthAdjust="spacingAndGlyphs">-5</text>
<text x="724.99" y="603.81" font-size="14.14" textLength="8.75" lengthAdjust="spacingAndGlyphs">0</text>
<text x="724.99" y="562.06" font-size="14.14" textLength="8.75" lengthAdjust="spacingAndGlyphs">5</text>
<text x="716.12" y="520.32" font-size="14.14" textLength="17.62" lengthAdjust="spacingAndGlyphs">10</text>
<text x="716.12" y="478.58" font-size="14.14" textLength="17.62" lengthAdjust="spacingAndGlyphs">15</text>
<text x="210.45" y="819.00" font-size="17.33" textLength="298.23" lengthAdjust="spacingAndGlyphs">I 2026-03-13T01:58:47, 12960 MHz</text>
<text x="181.71" y="1182.00" font-size="14.14" textLength="22.38" lengthAdjust="spacingAndGlyphs">-20</text>
<text x="223.39" y="1182.00" font-size="14.14" textLength="22.50" lengthAdjust="spacingAndGlyphs">-15</text>
<text x="265.13" y="1182.00" font-size="14.14" textLength="22.50" lengthAdjust="spacingAndGlyphs">-10</text>
<text x="311.31" y="1182.00" font-size="14.14" textLength="13.62" lengthAdjust="spacingAndGlyphs">-5</text>
<text x="355.49" y="1182.00" font-size="14.14" textLength="8.75" lengthAdjust="spacingAndGlyphs">0</text>
<text x="397.24" y="1182.00" font-size="14.14" textLength="8.75" lengthAdjust="spacingAndGlyphs">5</text>
<text x="434.54" y="1182.00" font-size="14.14" textLength="17.62" lengthAdjust="spacingAndGlyphs">10</text>
<text x="476.28" y="1182.00" font-size="14.14" textLength="17.62" lengthAdjust="spacingAndGlyphs">15</text>
<text x="160.80" y="1165.78" font-size="14.14" textLength="22.38" lengthAdjust="spacingAndGlyphs">-20</text>
<text x="160.67" y="1124.03" font-size="14.14" textLength="22.50" lengthAdjust="spacingAndGlyphs">-15</text>
<text x="160.67" y="1082.29" font-size="14.14" textLength="22.50" lengthAdjust="spacingAndGlyphs">-10</text>
<text x="169.55" y="1040.55" font-size="14.14" textLength="13.62" lengthAdjust="spacingAndGlyphs">-5</text>
<text x="174.42" y="998.81" font-size="14.14" textLength="8.75" lengthAdjust="spacingAndGlyphs">0</text>
<text x="174.42" y="957.06" font-size="14.14" textLength="8.75" lengthAdjust="spacingAndGlyphs">5</text>
<text x="165.55" y="915.32" font-size="14.14" textLength="17.62" lengthAdjust="spacingAndGlyphs">10</text>
<text x="165.55" y="873.58" font-size="14.14" textLength="17.62" lengthAdjust="spacingAndGlyphs">15</text>
<text x="757.77" y="819.00" font-size="17.33" textLength="304.73" lengthAdjust="spacingAndGlyphs">V 2026-03-13T01:58:47, 12960 MHz</text>
<text x="732.28" y="1182.00" font-size="14.14" textLength="22.38" lengthAdjust="spacingAndGlyphs">-20</text>
<text x="773.96" y="1182.00" font-size="14.14" textLength="22.50" lengthAdjust="spacingAndGlyphs">-15</text>
<text x="815.70" y="1182.00" font-size="14.14" textLength="22.50" lengthAdjust="spacingAndGlyphs">-10</text>
<text x="861.88" y="1182.00" font-size="14.14" textLength="13.62" lengthAdjust="spacingAndGlyphs">-5</text>
<text x="906.06" y="1182.00" font-size="14.14" textLength="8.75" lengthAdjust="spacingAndGlyphs">0</text>
<text x="947.81" y="1182.00" font-size="14.14" textLength="8.75" lengthAdjust="spacingAndGlyphs">5</text>
<text x="985.11" y="1182.00" font-size="14.14" textLength="17.62" lengthAdjust="spacingAndGlyphs">10</text>
<text x="1026.85" y="1182.00" font-size="14.14" textLength="17.62" lengthAdjust="spacingAndGlyphs">15</text>
<text x="711.37" y="1165.78" font-size="14.14" textLength="22.38" lengthAdjust="spacingAndGlyphs">-20</text>
<text x="711.24" y="1124.03" font-size="14.14" textLength="22.50" lengthAdjust="spacingAndGlyphs">-15</text>
<text x="711.24" y="1082.29" font-size="14.14" textLength="22.50" lengthAdjust="spacingAndGlyphs">-10</text>
<text x="720.12" y="1040.55" font-size="14.14" textLength="13.62" lengthAdjust="spacingAndGlyphs">-5</text>
<text x="724.99" y="998.81" font-size="14.14" textLength="8.75" lengthAdjust="spacingAndGlyphs">0</text>
<text x="724.99" y="957.06" font-size="14.14" textLength="8.75" lengthAdjust="spacingAndGlyphs">5</text>
<text x="716.12" y="915.32" font-size="14.14" textLength="17.62" lengthAdjust="spacingAndGlyphs">10</text>
<text x="716.12" y="873.58" font-size="14.14" textLength="17.62" lengthAdjust="spacingAndGlyphs">15</text>
<text x="552.18" y="29.00" font-size="17.33" textLength="10.88" lengthAdjust="spacingAndGlyphs">K</text>
<text x="575.69" y="376.78" font-size="14.14" textLength="8.75" lengthAdjust="spacingAndGlyphs">0</text>
<text x="575.69" y="309.99" font-size="14.14" textLength="43.75" lengthAdjust="spacingAndGlyphs">20000</text>
<text x="575.69" y="243.20" font-size="14.14" textLength="43.75" lengthAdjust="spacingAndGlyphs">40000</text>
<text x="575.69" y="176.41" font-size="14.14" textLength="43.88" lengthAdjust="spacingAndGlyphs">60000</text>
<text x="575.69" y="109.62" font-size="14.14" textLength="43.88" lengthAdjust="spacingAndGlyphs">80000</text>
<text x="575.69" y="42.83" font-size="14.14" textLength="52.62" lengthAdjust="spacingAndGlyphs">100000</text>
<text x="1102.75" y="29.00" font-size="17.33" textLength="10.88" lengthAdjust="spacingAndGlyphs">K</text>
<text x="1126.26" y="343.38" font-size="14.14" textLength="55.38" lengthAdjust="spacingAndGlyphs">−40000</text>
<text x="1126.26" y="276.59" font-size="14.14" textLength="55.38" lengthAdjust="spacingAndGlyphs">−20000</text>
<text x="1126.26" y="209.81" font-size="14.14" textLength="8.75" lengthAdjust="spacingAndGlyphs">0</text>
<text x="1126.26" y="143.02" font-size="14.14" textLength="43.75" lengthAdjust="spacingAndGlyphs">20000</text>
<text x="1126.26" y="76.23" font-size="14.14" textLength="43.75" lengthAdjust="spacingAndGlyphs">40000</text>
<text x="552.18" y="424.00" font-size="17.33" textLength="10.88" lengthAdjust="spacingAndGlyphs">K</text>
<text x="575.69" y="771.78" font-size="14.14" textLength="8.75" lengthAdjust="spacingAndGlyphs">0</text>
<text x="575.69" y="716.12" font-size="14.14" textLength="43.88" lengthAdjust="spacingAndGlyphs">10000</text>
<text x="575.69" y="660.46" font-size="14.14" textLength="43.75" lengthAdjust="spacingAndGlyphs">20000</text>
<text x="575.69" y="604.81" font-size="14.14" textLength="43.75" lengthAdjust="spacingAndGlyphs">30000</text>
<text x="575.69" y="549.15" font-size="14.14" textLength="43.75" lengthAdjust="spacingAndGlyphs">40000</text>
<text x="575.69" y="493.49" font-size="14.14" textLength="43.75" lengthAdjust="spacingAndGlyphs">50000</text>
<text x="575.69" y="437.83" font-size="14.14" textLength="43.88" lengthAdjust="spacingAndGlyphs">60000</text>
<text x="1102.75" y="424.00" font-size="17.33" textLength="10.88" lengthAdjust="spacingAndGlyphs">K</text>
<text x="1126.26" y="738.38" font-size="14.14" textLength="55.38" lengthAdjust="spacingAndGlyphs">−40000</text>
<text x="1126.26" y="671.59" font-size="14.14" textLength="55.38" lengthAdjust="spacingAndGlyphs">−20000</text>
<text x="1126.26" y="604.81" font-size="14.14" textLength="8.75" lengthAdjust="spacingAndGlyphs">0</text>
<text x="1126.26" y="538.02" font-size="14.14" textLength="43.75" lengthAdjust="spacingAndGlyphs">20000</text>
<text x="1126.26" y="471.23" font-size="14.14" textLength="43.75" lengthAdjust="spacingAndGlyphs">40000</text>
<text x="552.18" y="819.00" font-size="17.33" textLength="10.88" lengthAdjust="spacingAndGlyphs">K</text>
<text x="575.69" y="1120.72" font-size="14.14" textLength="35.00" lengthAdjust="spacingAndGlyphs">5000</text>
<text x="575.69" y="1063.14" font-size="14.14" textLength="43.88" lengthAdjust="spacingAndGlyphs">10000</text>
<text x="575.69" y="1005.56" font-size="14.14" textLength="43.88" lengthAdjust="spacingAndGlyphs">15000</text>
<text x="575.69" y="947.99" font-size="14.14" textLength="43.75" lengthAdjust="spacingAndGlyphs">20000</text>
<text x="575.69" y="890.41" font-size="14.14" textLength="43.75" lengthAdjust="spacingAndGlyphs">25000</text>
<text x="575.69" y="832.83" font-size="14.14" textLength="43.75" lengthAdjust="spacingAndGlyphs">30000</text>
<text x="1102.75" y="819.00" font-size="17.33" textLength="10.88" lengthAdjust="spacingAndGlyphs">K</text>
<text x="1126.26" y="1166.78" font-size="14.14" textLength="55.38" lengthAdjust="spacingAndGlyphs">−30000</text>
<text x="1126.26" y="1111.12" font-size="14.14" textLength="55.38" lengthAdjust="spacingAndGlyphs">−20000</text>
<text x="1126.26" y="1055.46" font-size="14.14" textLength="55.50" lengthAdjust="spacingAndGlyphs">−10000</text>
<text x="1126.26" y="999.81" font-size="14.14" textLength="8.75" lengthAdjust="spacingAndGlyphs">0</text>
<text x="1126.26" y="944.15" font-size="14.14" textLength="43.88" lengthAdjust="spacingAndGlyphs">10000</text>
<text x="1126.26" y="888.49" font-size="14.14" textLength="43.75" lengthAdjust="spacingAndGlyphs">20000</text>
<text x="1126.26" y="832.83" font-size="14.14" textLength="43.75" lengthAdjust="spacingAndGlyphs">30000</text>
</g>
</svg>
</body></html>
